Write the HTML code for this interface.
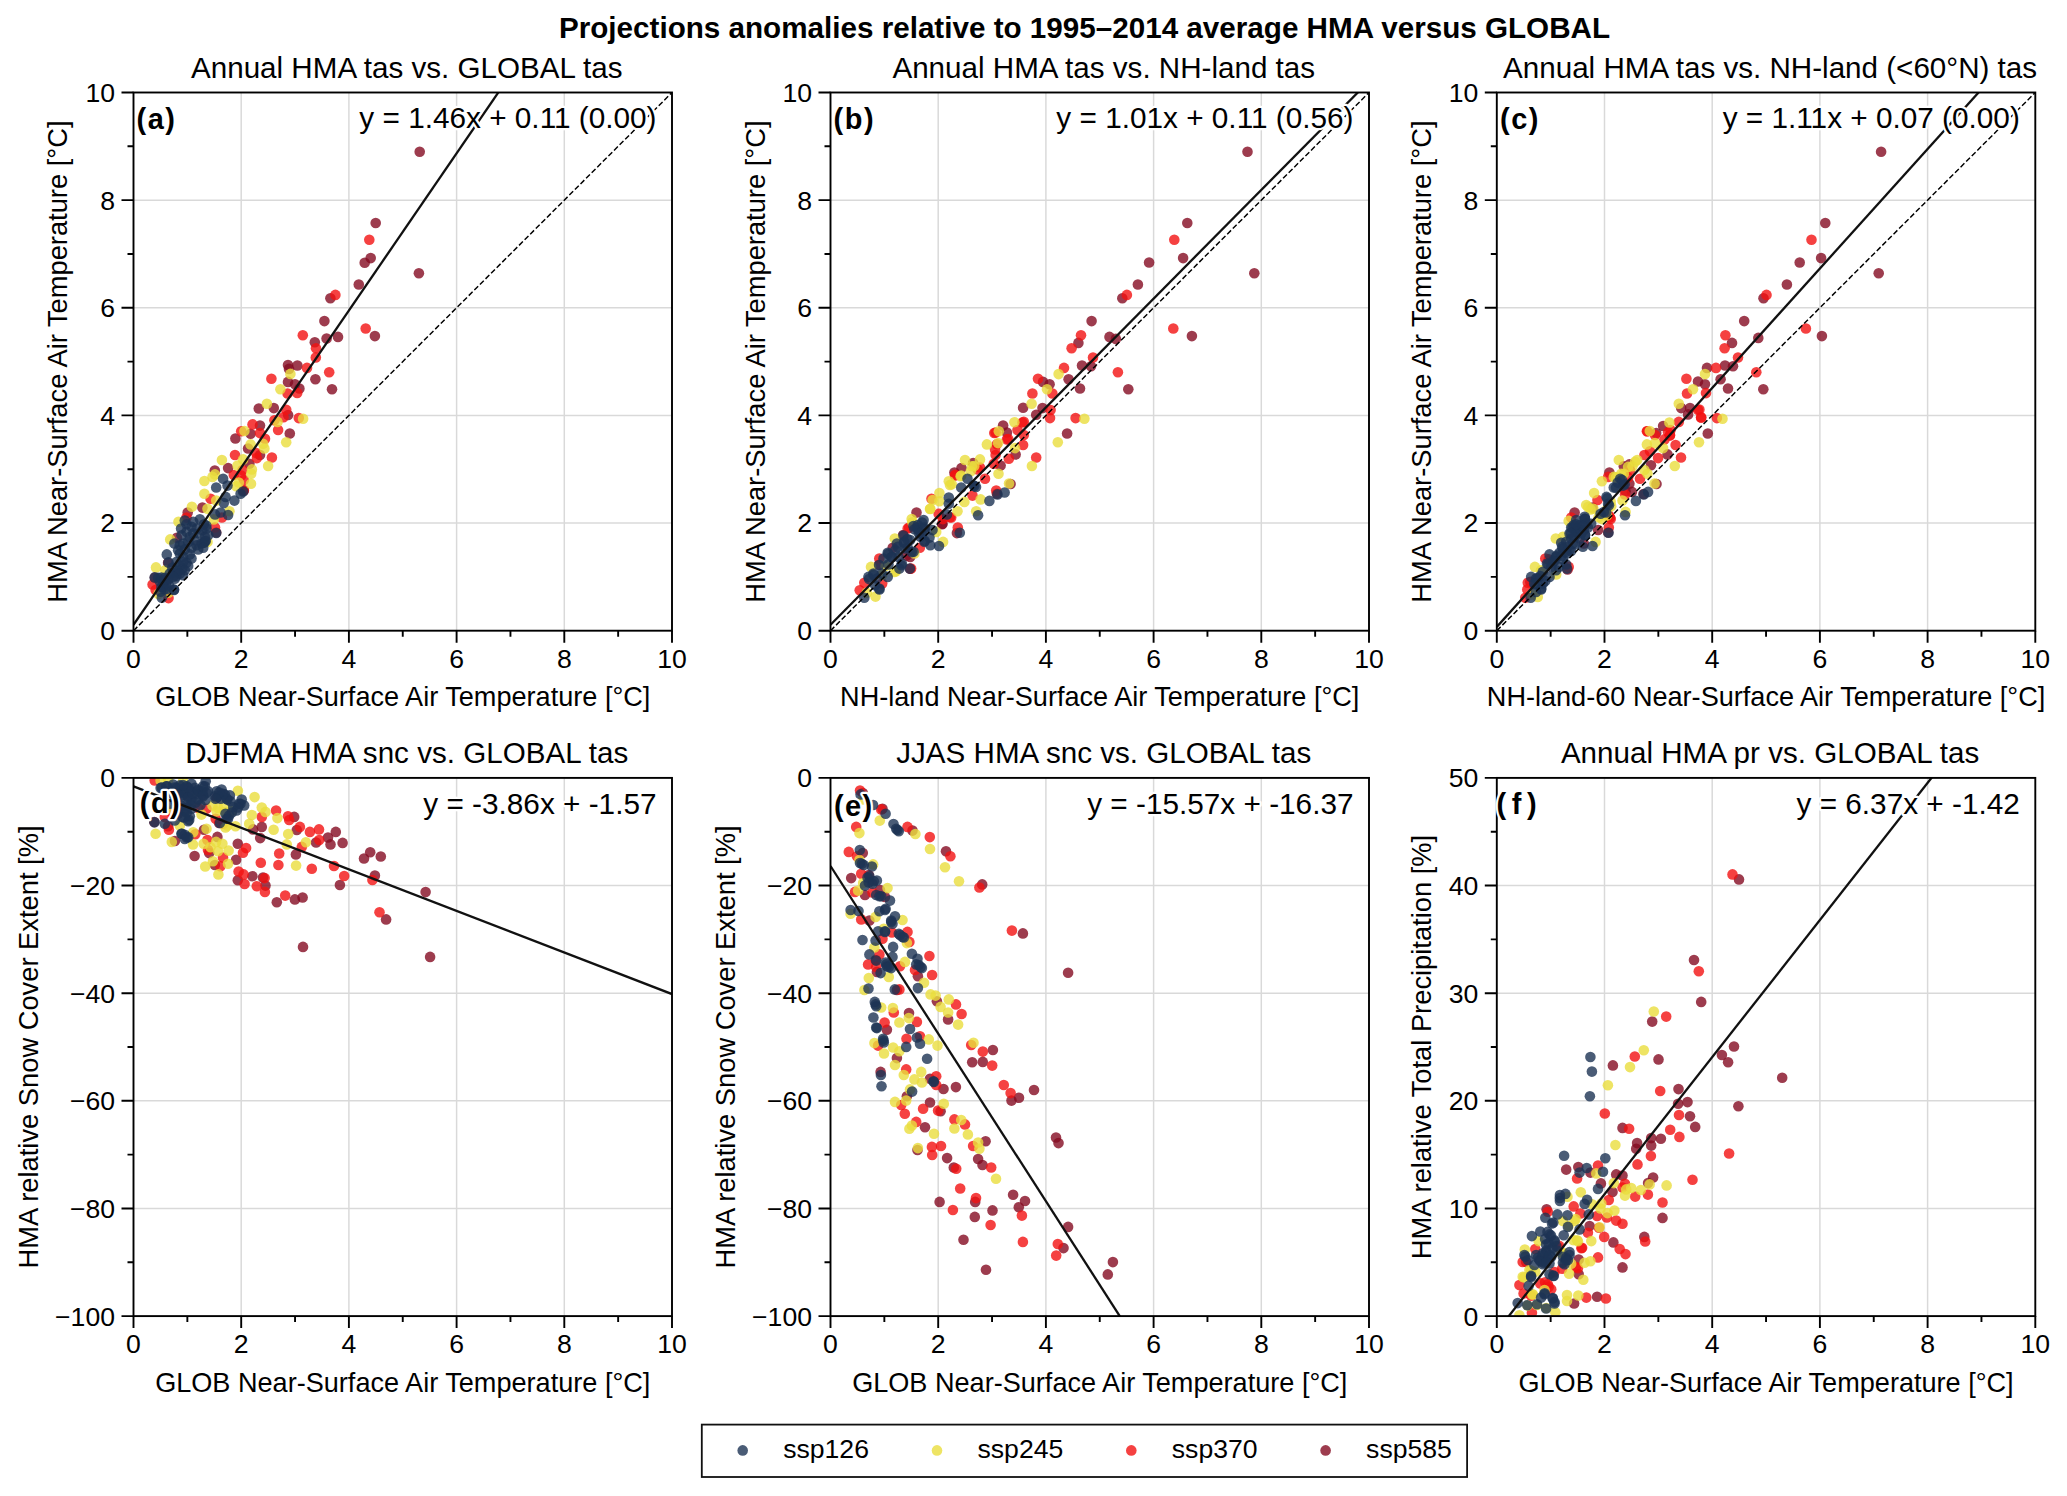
<!DOCTYPE html>
<html><head><meta charset="utf-8"><title>Projections anomalies</title>
<style>html,body{margin:0;padding:0;background:#fff}svg{display:block}</style></head>
<body>
<svg width="2067" height="1496" viewBox="0 0 2067 1496" font-family="'Liberation Sans', sans-serif" fill="#000">
<rect width="2067" height="1496" fill="#fff"/>
<text x="1084.5" y="37.5" font-size="29.63" font-weight="bold" text-anchor="middle">Projections anomalies relative to 1995–2014 average HMA versus GLOBAL</text>
<g id="pa">
<path d="M241.20 92.50V630.70M348.90 92.50V630.70M456.60 92.50V630.70M564.30 92.50V630.70M133.50 523.06H672.00M133.50 415.42H672.00M133.50 307.78H672.00M133.50 200.14H672.00" stroke="#000" stroke-opacity="0.15" stroke-width="1.5" fill="none"/>
<clipPath id="ca"><rect x="133.50" y="92.50" width="538.50" height="538.20"/></clipPath>
<g clip-path="url(#ca)">
<g fill-opacity="0.8"><circle cx="419.7" cy="151.8" r="5.3" fill="#840b22"/><circle cx="375.7" cy="223.0" r="5.3" fill="#840b22"/><circle cx="370.7" cy="258.1" r="5.3" fill="#840b22"/><circle cx="364.7" cy="262.7" r="5.3" fill="#840b22"/><circle cx="418.9" cy="273.3" r="5.3" fill="#840b22"/><circle cx="358.8" cy="284.5" r="5.3" fill="#840b22"/><circle cx="330.4" cy="298.3" r="5.3" fill="#840b22"/><circle cx="324.4" cy="321.1" r="5.3" fill="#840b22"/><circle cx="374.9" cy="336.1" r="5.3" fill="#840b22"/><circle cx="338.0" cy="336.9" r="5.3" fill="#840b22"/><circle cx="326.6" cy="338.5" r="5.3" fill="#840b22"/><circle cx="314.8" cy="342.3" r="5.3" fill="#840b22"/><circle cx="288.0" cy="365.1" r="5.3" fill="#840b22"/><circle cx="297.4" cy="365.5" r="5.3" fill="#840b22"/><circle cx="289.0" cy="368.9" r="5.3" fill="#840b22"/><circle cx="315.4" cy="379.3" r="5.3" fill="#840b22"/><circle cx="288.0" cy="381.9" r="5.3" fill="#840b22"/><circle cx="295.0" cy="384.3" r="5.3" fill="#840b22"/><circle cx="299.4" cy="388.5" r="5.3" fill="#840b22"/><circle cx="332.0" cy="389.3" r="5.3" fill="#840b22"/><circle cx="258.8" cy="408.5" r="5.3" fill="#840b22"/><circle cx="273.8" cy="408.1" r="5.3" fill="#840b22"/><circle cx="288.1" cy="415.0" r="5.3" fill="#840b22"/><circle cx="260.0" cy="425.6" r="5.3" fill="#840b22"/><circle cx="289.8" cy="433.5" r="5.3" fill="#840b22"/><circle cx="250.6" cy="433.8" r="5.3" fill="#840b22"/><circle cx="235.4" cy="438.5" r="5.3" fill="#840b22"/><circle cx="248.1" cy="448.5" r="5.3" fill="#840b22"/><circle cx="260.0" cy="455.0" r="5.3" fill="#840b22"/><circle cx="228.1" cy="468.1" r="5.3" fill="#840b22"/><circle cx="249.4" cy="463.8" r="5.3" fill="#840b22"/><circle cx="214.8" cy="470.6" r="5.3" fill="#840b22"/><circle cx="243.8" cy="490.6" r="5.3" fill="#840b22"/><circle cx="216.2" cy="532.5" r="5.3" fill="#840b22"/><circle cx="187.7" cy="512.6" r="5.3" fill="#840b22"/><circle cx="202.4" cy="507.6" r="5.3" fill="#840b22"/><circle cx="176.9" cy="537.7" r="5.3" fill="#840b22"/><circle cx="168.1" cy="562.8" r="5.3" fill="#840b22"/><circle cx="154.9" cy="577.6" r="5.3" fill="#840b22"/><circle cx="369.3" cy="239.7" r="5.3" fill="#f21111"/><circle cx="335.4" cy="294.9" r="5.3" fill="#f21111"/><circle cx="365.7" cy="328.5" r="5.3" fill="#f21111"/><circle cx="302.8" cy="335.3" r="5.3" fill="#f21111"/><circle cx="316.0" cy="348.3" r="5.3" fill="#f21111"/><circle cx="315.8" cy="357.5" r="5.3" fill="#f21111"/><circle cx="307.0" cy="367.9" r="5.3" fill="#f21111"/><circle cx="329.2" cy="372.3" r="5.3" fill="#f21111"/><circle cx="271.4" cy="378.7" r="5.3" fill="#f21111"/><circle cx="287.6" cy="393.5" r="5.3" fill="#f21111"/><circle cx="297.2" cy="392.9" r="5.3" fill="#f21111"/><circle cx="286.2" cy="409.8" r="5.3" fill="#f21111"/><circle cx="283.5" cy="417.2" r="5.3" fill="#f21111"/><circle cx="298.8" cy="418.1" r="5.3" fill="#f21111"/><circle cx="274.4" cy="420.2" r="5.3" fill="#f21111"/><circle cx="252.5" cy="424.4" r="5.3" fill="#f21111"/><circle cx="278.1" cy="430.0" r="5.3" fill="#f21111"/><circle cx="241.2" cy="431.2" r="5.3" fill="#f21111"/><circle cx="260.0" cy="433.1" r="5.3" fill="#f21111"/><circle cx="265.0" cy="438.8" r="5.3" fill="#f21111"/><circle cx="256.2" cy="453.1" r="5.3" fill="#f21111"/><circle cx="235.0" cy="455.0" r="5.3" fill="#f21111"/><circle cx="256.9" cy="458.1" r="5.3" fill="#f21111"/><circle cx="271.9" cy="457.5" r="5.3" fill="#f21111"/><circle cx="242.5" cy="470.0" r="5.3" fill="#f21111"/><circle cx="241.2" cy="475.6" r="5.3" fill="#f21111"/><circle cx="233.8" cy="475.0" r="5.3" fill="#f21111"/><circle cx="243.8" cy="480.0" r="5.3" fill="#f21111"/><circle cx="243.8" cy="490.0" r="5.3" fill="#f21111"/><circle cx="210.6" cy="498.8" r="5.3" fill="#f21111"/><circle cx="221.9" cy="517.5" r="5.3" fill="#f21111"/><circle cx="215.0" cy="527.5" r="5.3" fill="#f21111"/><circle cx="186.5" cy="517.6" r="5.3" fill="#f21111"/><circle cx="152.6" cy="584.5" r="5.3" fill="#f21111"/><circle cx="155.6" cy="590.1" r="5.3" fill="#f21111"/><circle cx="168.5" cy="598.1" r="5.3" fill="#f21111"/><circle cx="290.4" cy="373.9" r="5.3" fill="#eadd3d"/><circle cx="280.4" cy="389.3" r="5.3" fill="#eadd3d"/><circle cx="266.9" cy="403.8" r="5.3" fill="#eadd3d"/><circle cx="303.1" cy="418.8" r="5.3" fill="#eadd3d"/><circle cx="277.5" cy="421.9" r="5.3" fill="#eadd3d"/><circle cx="244.4" cy="431.0" r="5.3" fill="#eadd3d"/><circle cx="286.2" cy="442.2" r="5.3" fill="#eadd3d"/><circle cx="250.6" cy="444.4" r="5.3" fill="#eadd3d"/><circle cx="263.1" cy="443.8" r="5.3" fill="#eadd3d"/><circle cx="264.4" cy="448.5" r="5.3" fill="#eadd3d"/><circle cx="221.9" cy="460.0" r="5.3" fill="#eadd3d"/><circle cx="243.1" cy="459.4" r="5.3" fill="#eadd3d"/><circle cx="237.5" cy="465.6" r="5.3" fill="#eadd3d"/><circle cx="268.1" cy="466.0" r="5.3" fill="#eadd3d"/><circle cx="251.9" cy="469.4" r="5.3" fill="#eadd3d"/><circle cx="251.2" cy="473.8" r="5.3" fill="#eadd3d"/><circle cx="215.0" cy="474.4" r="5.3" fill="#eadd3d"/><circle cx="212.5" cy="476.9" r="5.3" fill="#eadd3d"/><circle cx="204.4" cy="481.0" r="5.3" fill="#eadd3d"/><circle cx="238.8" cy="482.5" r="5.3" fill="#eadd3d"/><circle cx="251.0" cy="483.8" r="5.3" fill="#eadd3d"/><circle cx="236.2" cy="486.2" r="5.3" fill="#eadd3d"/><circle cx="204.4" cy="493.8" r="5.3" fill="#eadd3d"/><circle cx="216.2" cy="500.6" r="5.3" fill="#eadd3d"/><circle cx="207.5" cy="508.8" r="5.3" fill="#eadd3d"/><circle cx="229.4" cy="511.2" r="5.3" fill="#eadd3d"/><circle cx="213.8" cy="519.4" r="5.3" fill="#eadd3d"/><circle cx="207.5" cy="541.9" r="5.3" fill="#eadd3d"/><circle cx="191.9" cy="506.8" r="5.3" fill="#eadd3d"/><circle cx="178.5" cy="521.8" r="5.3" fill="#eadd3d"/><circle cx="170.2" cy="539.4" r="5.3" fill="#eadd3d"/><circle cx="156.0" cy="567.4" r="5.3" fill="#eadd3d"/><circle cx="165.2" cy="570.3" r="5.3" fill="#eadd3d"/><circle cx="158.5" cy="593.9" r="5.3" fill="#eadd3d"/><circle cx="168.5" cy="592.7" r="5.3" fill="#eadd3d"/><circle cx="223.1" cy="478.8" r="5.3" fill="#1d3354"/><circle cx="227.5" cy="485.6" r="5.3" fill="#1d3354"/><circle cx="216.2" cy="487.5" r="5.3" fill="#1d3354"/><circle cx="243.1" cy="491.5" r="5.3" fill="#1d3354"/><circle cx="240.6" cy="493.8" r="5.3" fill="#1d3354"/><circle cx="225.6" cy="496.9" r="5.3" fill="#1d3354"/><circle cx="234.4" cy="500.6" r="5.3" fill="#1d3354"/><circle cx="223.8" cy="503.1" r="5.3" fill="#1d3354"/><circle cx="215.0" cy="514.4" r="5.3" fill="#1d3354"/><circle cx="220.6" cy="512.5" r="5.3" fill="#1d3354"/><circle cx="228.1" cy="515.0" r="5.3" fill="#1d3354"/><circle cx="206.2" cy="525.6" r="5.3" fill="#1d3354"/><circle cx="216.2" cy="533.0" r="5.3" fill="#1d3354"/><circle cx="205.0" cy="541.2" r="5.3" fill="#1d3354"/><circle cx="184.8" cy="520.6" r="5.3" fill="#1d3354"/><circle cx="181.1" cy="528.5" r="5.3" fill="#1d3354"/><circle cx="191.5" cy="526.8" r="5.3" fill="#1d3354"/><circle cx="199.9" cy="519.3" r="5.3" fill="#1d3354"/><circle cx="204.0" cy="524.3" r="5.3" fill="#1d3354"/><circle cx="199.0" cy="533.5" r="5.3" fill="#1d3354"/><circle cx="189.8" cy="536.9" r="5.3" fill="#1d3354"/><circle cx="204.0" cy="542.7" r="5.3" fill="#1d3354"/><circle cx="196.5" cy="545.2" r="5.3" fill="#1d3354"/><circle cx="183.1" cy="543.5" r="5.3" fill="#1d3354"/><circle cx="174.4" cy="543.5" r="5.3" fill="#1d3354"/><circle cx="166.8" cy="554.4" r="5.3" fill="#1d3354"/><circle cx="179.8" cy="553.6" r="5.3" fill="#1d3354"/><circle cx="189.8" cy="554.4" r="5.3" fill="#1d3354"/><circle cx="186.5" cy="562.8" r="5.3" fill="#1d3354"/><circle cx="176.5" cy="561.9" r="5.3" fill="#1d3354"/><circle cx="168.5" cy="562.4" r="5.3" fill="#1d3354"/><circle cx="182.3" cy="568.6" r="5.3" fill="#1d3354"/><circle cx="173.1" cy="572.8" r="5.3" fill="#1d3354"/><circle cx="154.7" cy="577.4" r="5.3" fill="#1d3354"/><circle cx="164.8" cy="577.8" r="5.3" fill="#1d3354"/><circle cx="174.8" cy="578.7" r="5.3" fill="#1d3354"/><circle cx="183.1" cy="575.3" r="5.3" fill="#1d3354"/><circle cx="161.4" cy="587.0" r="5.3" fill="#1d3354"/><circle cx="174.0" cy="589.5" r="5.3" fill="#1d3354"/><circle cx="174.0" cy="589.9" r="5.3" fill="#1d3354"/><circle cx="164.3" cy="589.3" r="5.3" fill="#1d3354"/><circle cx="161.8" cy="597.7" r="5.3" fill="#1d3354"/><circle cx="166.0" cy="583.5" r="5.3" fill="#1d3354"/><circle cx="186.5" cy="524.3" r="5.3" fill="#1d3354"/><circle cx="193.2" cy="521.8" r="5.3" fill="#1d3354"/><circle cx="196.5" cy="528.5" r="5.3" fill="#1d3354"/><circle cx="202.4" cy="530.2" r="5.3" fill="#1d3354"/><circle cx="204.9" cy="536.9" r="5.3" fill="#1d3354"/><circle cx="193.2" cy="533.5" r="5.3" fill="#1d3354"/><circle cx="186.5" cy="531.8" r="5.3" fill="#1d3354"/><circle cx="181.5" cy="535.2" r="5.3" fill="#1d3354"/><circle cx="188.2" cy="541.9" r="5.3" fill="#1d3354"/><circle cx="194.8" cy="540.2" r="5.3" fill="#1d3354"/><circle cx="201.5" cy="543.5" r="5.3" fill="#1d3354"/><circle cx="191.5" cy="547.7" r="5.3" fill="#1d3354"/><circle cx="184.8" cy="549.4" r="5.3" fill="#1d3354"/><circle cx="198.2" cy="549.4" r="5.3" fill="#1d3354"/><circle cx="179.8" cy="545.2" r="5.3" fill="#1d3354"/><circle cx="178.1" cy="550.2" r="5.3" fill="#1d3354"/><circle cx="183.1" cy="556.9" r="5.3" fill="#1d3354"/><circle cx="191.5" cy="558.6" r="5.3" fill="#1d3354"/><circle cx="188.2" cy="566.1" r="5.3" fill="#1d3354"/><circle cx="179.8" cy="566.1" r="5.3" fill="#1d3354"/><circle cx="183.1" cy="561.9" r="5.3" fill="#1d3354"/><circle cx="178.1" cy="571.1" r="5.3" fill="#1d3354"/><circle cx="184.8" cy="570.3" r="5.3" fill="#1d3354"/><circle cx="172.3" cy="567.8" r="5.3" fill="#1d3354"/><circle cx="169.8" cy="573.6" r="5.3" fill="#1d3354"/><circle cx="176.5" cy="576.1" r="5.3" fill="#1d3354"/><circle cx="168.1" cy="579.5" r="5.3" fill="#1d3354"/><circle cx="159.7" cy="581.2" r="5.3" fill="#1d3354"/><circle cx="158.1" cy="577.8" r="5.3" fill="#1d3354"/><circle cx="163.1" cy="583.7" r="5.3" fill="#1d3354"/><circle cx="168.9" cy="585.3" r="5.3" fill="#1d3354"/><circle cx="179.8" cy="573.6" r="5.3" fill="#1d3354"/><circle cx="206.5" cy="528.5" r="5.3" fill="#1d3354"/><circle cx="208.2" cy="535.2" r="5.3" fill="#1d3354"/><circle cx="205.7" cy="541.0" r="5.3" fill="#1d3354"/><circle cx="203.2" cy="547.7" r="5.3" fill="#1d3354"/><circle cx="161.4" cy="577.6" r="5.3" fill="#1d3354"/><circle cx="164.8" cy="580.1" r="5.3" fill="#1d3354"/><circle cx="163.1" cy="586.8" r="5.3" fill="#1d3354"/><circle cx="166.4" cy="589.3" r="5.3" fill="#1d3354"/><circle cx="160.6" cy="591.8" r="5.3" fill="#1d3354"/><circle cx="173.1" cy="576.7" r="5.3" fill="#1d3354"/></g>
<path d="M133.50 630.70L672.00 92.50" stroke="#000" stroke-width="1.45" stroke-dasharray="5.4 2.5" fill="none"/>
<path d="M133.50 624.78L672.00 -160.99" stroke="#111" stroke-width="2.3" fill="none"/>
</g>
<rect x="133.50" y="92.50" width="538.50" height="538.20" fill="none" stroke="#000" stroke-width="1.90"/>
<path d="M133.50 630.70v12M187.35 630.70v6M241.20 630.70v12M295.05 630.70v6M348.90 630.70v12M402.75 630.70v6M456.60 630.70v12M510.45 630.70v6M564.30 630.70v12M618.15 630.70v6M672.00 630.70v12M133.50 630.70h-12M133.50 576.88h-6M133.50 523.06h-12M133.50 469.24h-6M133.50 415.42h-12M133.50 361.60h-6M133.50 307.78h-12M133.50 253.96h-6M133.50 200.14h-12M133.50 146.32h-6M133.50 92.50h-12" stroke="#000" stroke-width="1.90" fill="none"/>
<g font-size="26.60"><text x="133.50" y="668.00" text-anchor="middle">0</text><text x="241.20" y="668.00" text-anchor="middle">2</text><text x="348.90" y="668.00" text-anchor="middle">4</text><text x="456.60" y="668.00" text-anchor="middle">6</text><text x="564.30" y="668.00" text-anchor="middle">8</text><text x="672.00" y="668.00" text-anchor="middle">10</text><text x="115.00" y="640.10" text-anchor="end">0</text><text x="115.00" y="532.46" text-anchor="end">2</text><text x="115.00" y="424.82" text-anchor="end">4</text><text x="115.00" y="317.18" text-anchor="end">6</text><text x="115.00" y="209.54" text-anchor="end">8</text><text x="115.00" y="101.90" text-anchor="end">10</text></g>
<text x="402.75" y="706.20" font-size="27.1" text-anchor="middle">GLOB Near-Surface Air Temperature [°C]</text>
<text transform="translate(67.00 361.60) rotate(-90)" font-size="27.3" text-anchor="middle">HMA Near-Surface Air Temperature [°C]</text>
<text x="406.75" y="77.90" font-size="29.60" text-anchor="middle">Annual HMA tas vs. GLOBAL tas</text>
<text x="136.50" y="128.80" font-size="28.95" font-weight="bold" letter-spacing="1.50" stroke="#fff" stroke-width="4.5" stroke-linejoin="round" paint-order="stroke">(a)</text>
<text x="656.50" y="128.40" font-size="29.75" text-anchor="end" stroke="#fff" stroke-width="4.5" stroke-linejoin="round" paint-order="stroke">y = 1.46x + 0.11 (0.00)</text>
</g>
<g id="pb">
<path d="M938.20 92.50V630.70M1045.90 92.50V630.70M1153.60 92.50V630.70M1261.30 92.50V630.70M830.50 523.06H1369.00M830.50 415.42H1369.00M830.50 307.78H1369.00M830.50 200.14H1369.00" stroke="#000" stroke-opacity="0.15" stroke-width="1.5" fill="none"/>
<clipPath id="cb"><rect x="830.50" y="92.50" width="538.50" height="538.20"/></clipPath>
<g clip-path="url(#cb)">
<g fill-opacity="0.8"><circle cx="1247.5" cy="151.8" r="5.3" fill="#840b22"/><circle cx="1187.3" cy="223.0" r="5.3" fill="#840b22"/><circle cx="1183.1" cy="258.1" r="5.3" fill="#840b22"/><circle cx="1149.1" cy="262.5" r="5.3" fill="#840b22"/><circle cx="1254.3" cy="273.3" r="5.3" fill="#840b22"/><circle cx="1137.9" cy="284.5" r="5.3" fill="#840b22"/><circle cx="1122.3" cy="298.3" r="5.3" fill="#840b22"/><circle cx="1091.6" cy="321.1" r="5.3" fill="#840b22"/><circle cx="1191.9" cy="336.1" r="5.3" fill="#840b22"/><circle cx="1109.5" cy="336.9" r="5.3" fill="#840b22"/><circle cx="1115.9" cy="338.9" r="5.3" fill="#840b22"/><circle cx="1078.4" cy="342.9" r="5.3" fill="#840b22"/><circle cx="1082.0" cy="365.5" r="5.3" fill="#840b22"/><circle cx="1091.0" cy="366.3" r="5.3" fill="#840b22"/><circle cx="1068.6" cy="379.3" r="5.3" fill="#840b22"/><circle cx="1043.0" cy="381.9" r="5.3" fill="#840b22"/><circle cx="1049.6" cy="384.3" r="5.3" fill="#840b22"/><circle cx="1080.0" cy="388.5" r="5.3" fill="#840b22"/><circle cx="1128.3" cy="389.3" r="5.3" fill="#840b22"/><circle cx="1023.1" cy="407.8" r="5.3" fill="#840b22"/><circle cx="1042.5" cy="408.1" r="5.3" fill="#840b22"/><circle cx="1036.2" cy="414.8" r="5.3" fill="#840b22"/><circle cx="1003.1" cy="425.6" r="5.3" fill="#840b22"/><circle cx="1006.9" cy="432.5" r="5.3" fill="#840b22"/><circle cx="1067.1" cy="433.5" r="5.3" fill="#840b22"/><circle cx="1015.6" cy="454.4" r="5.3" fill="#840b22"/><circle cx="973.1" cy="463.1" r="5.3" fill="#840b22"/><circle cx="1000.6" cy="465.6" r="5.3" fill="#840b22"/><circle cx="961.5" cy="468.1" r="5.3" fill="#840b22"/><circle cx="954.4" cy="472.5" r="5.3" fill="#840b22"/><circle cx="1010.6" cy="484.0" r="5.3" fill="#840b22"/><circle cx="996.9" cy="493.8" r="5.3" fill="#840b22"/><circle cx="942.5" cy="523.8" r="5.3" fill="#840b22"/><circle cx="956.9" cy="533.1" r="5.3" fill="#840b22"/><circle cx="916.5" cy="512.6" r="5.3" fill="#840b22"/><circle cx="903.1" cy="535.1" r="5.3" fill="#840b22"/><circle cx="892.7" cy="547.7" r="5.3" fill="#840b22"/><circle cx="910.2" cy="556.9" r="5.3" fill="#840b22"/><circle cx="878.9" cy="564.8" r="5.3" fill="#840b22"/><circle cx="910.1" cy="568.7" r="5.3" fill="#840b22"/><circle cx="942.1" cy="524.3" r="5.3" fill="#840b22"/><circle cx="906.5" cy="555.6" r="5.3" fill="#840b22"/><circle cx="1174.3" cy="239.7" r="5.3" fill="#f21111"/><circle cx="1126.9" cy="294.9" r="5.3" fill="#f21111"/><circle cx="1173.3" cy="328.5" r="5.3" fill="#f21111"/><circle cx="1081.0" cy="335.3" r="5.3" fill="#f21111"/><circle cx="1071.6" cy="348.3" r="5.3" fill="#f21111"/><circle cx="1093.0" cy="357.5" r="5.3" fill="#f21111"/><circle cx="1064.0" cy="367.9" r="5.3" fill="#f21111"/><circle cx="1117.9" cy="372.3" r="5.3" fill="#f21111"/><circle cx="1038.0" cy="378.7" r="5.3" fill="#f21111"/><circle cx="1052.4" cy="393.5" r="5.3" fill="#f21111"/><circle cx="1032.4" cy="393.5" r="5.3" fill="#f21111"/><circle cx="1050.6" cy="410.0" r="5.3" fill="#f21111"/><circle cx="1050.0" cy="418.1" r="5.3" fill="#f21111"/><circle cx="1075.6" cy="418.1" r="5.3" fill="#f21111"/><circle cx="1022.5" cy="422.5" r="5.3" fill="#f21111"/><circle cx="1017.5" cy="430.0" r="5.3" fill="#f21111"/><circle cx="995.6" cy="432.5" r="5.3" fill="#f21111"/><circle cx="1023.8" cy="435.0" r="5.3" fill="#f21111"/><circle cx="1006.9" cy="439.4" r="5.3" fill="#f21111"/><circle cx="1023.1" cy="445.0" r="5.3" fill="#f21111"/><circle cx="995.0" cy="449.4" r="5.3" fill="#f21111"/><circle cx="995.6" cy="455.0" r="5.3" fill="#f21111"/><circle cx="1036.2" cy="457.5" r="5.3" fill="#f21111"/><circle cx="1008.8" cy="458.8" r="5.3" fill="#f21111"/><circle cx="993.8" cy="463.8" r="5.3" fill="#f21111"/><circle cx="980.0" cy="467.5" r="5.3" fill="#f21111"/><circle cx="955.0" cy="475.6" r="5.3" fill="#f21111"/><circle cx="985.0" cy="478.8" r="5.3" fill="#f21111"/><circle cx="996.2" cy="490.6" r="5.3" fill="#f21111"/><circle cx="972.5" cy="495.6" r="5.3" fill="#f21111"/><circle cx="951.2" cy="517.5" r="5.3" fill="#f21111"/><circle cx="957.8" cy="527.5" r="5.3" fill="#f21111"/><circle cx="931.5" cy="498.8" r="5.3" fill="#f21111"/><circle cx="907.7" cy="528.4" r="5.3" fill="#f21111"/><circle cx="919.8" cy="547.7" r="5.3" fill="#f21111"/><circle cx="879.3" cy="558.5" r="5.3" fill="#f21111"/><circle cx="911.1" cy="568.6" r="5.3" fill="#f21111"/><circle cx="864.3" cy="582.8" r="5.3" fill="#f21111"/><circle cx="859.7" cy="590.3" r="5.3" fill="#f21111"/><circle cx="977.8" cy="469.5" r="5.3" fill="#f21111"/><circle cx="955.2" cy="474.7" r="5.3" fill="#f21111"/><circle cx="943.0" cy="519.1" r="5.3" fill="#f21111"/><circle cx="950.0" cy="517.3" r="5.3" fill="#f21111"/><circle cx="938.7" cy="513.9" r="5.3" fill="#f21111"/><circle cx="1023.8" cy="421.7" r="5.3" fill="#f21111"/><circle cx="994.3" cy="433.0" r="5.3" fill="#f21111"/><circle cx="996.9" cy="444.3" r="5.3" fill="#f21111"/><circle cx="1008.2" cy="439.1" r="5.3" fill="#f21111"/><circle cx="909.1" cy="527.8" r="5.3" fill="#f21111"/><circle cx="882.2" cy="583.4" r="5.3" fill="#f21111"/><circle cx="1058.6" cy="374.1" r="5.3" fill="#eadd3d"/><circle cx="1047.0" cy="389.3" r="5.3" fill="#eadd3d"/><circle cx="1031.6" cy="403.8" r="5.3" fill="#eadd3d"/><circle cx="1084.4" cy="418.8" r="5.3" fill="#eadd3d"/><circle cx="1014.4" cy="422.2" r="5.3" fill="#eadd3d"/><circle cx="998.8" cy="431.2" r="5.3" fill="#eadd3d"/><circle cx="1057.8" cy="442.2" r="5.3" fill="#eadd3d"/><circle cx="986.9" cy="444.4" r="5.3" fill="#eadd3d"/><circle cx="998.1" cy="443.1" r="5.3" fill="#eadd3d"/><circle cx="1015.0" cy="448.1" r="5.3" fill="#eadd3d"/><circle cx="965.0" cy="460.0" r="5.3" fill="#eadd3d"/><circle cx="980.0" cy="459.4" r="5.3" fill="#eadd3d"/><circle cx="1031.9" cy="466.0" r="5.3" fill="#eadd3d"/><circle cx="971.9" cy="466.2" r="5.3" fill="#eadd3d"/><circle cx="998.5" cy="473.8" r="5.3" fill="#eadd3d"/><circle cx="960.6" cy="476.2" r="5.3" fill="#eadd3d"/><circle cx="948.8" cy="481.2" r="5.3" fill="#eadd3d"/><circle cx="1009.0" cy="483.5" r="5.3" fill="#eadd3d"/><circle cx="950.0" cy="485.0" r="5.3" fill="#eadd3d"/><circle cx="939.4" cy="493.1" r="5.3" fill="#eadd3d"/><circle cx="980.6" cy="499.4" r="5.3" fill="#eadd3d"/><circle cx="964.4" cy="501.9" r="5.3" fill="#eadd3d"/><circle cx="939.4" cy="501.2" r="5.3" fill="#eadd3d"/><circle cx="957.5" cy="511.2" r="5.3" fill="#eadd3d"/><circle cx="976.2" cy="511.2" r="5.3" fill="#eadd3d"/><circle cx="936.2" cy="531.9" r="5.3" fill="#eadd3d"/><circle cx="943.1" cy="541.9" r="5.3" fill="#eadd3d"/><circle cx="930.3" cy="508.8" r="5.3" fill="#eadd3d"/><circle cx="912.3" cy="522.2" r="5.3" fill="#eadd3d"/><circle cx="894.8" cy="538.5" r="5.3" fill="#eadd3d"/><circle cx="914.4" cy="553.5" r="5.3" fill="#eadd3d"/><circle cx="871.0" cy="566.9" r="5.3" fill="#eadd3d"/><circle cx="894.4" cy="571.9" r="5.3" fill="#eadd3d"/><circle cx="866.8" cy="592.8" r="5.3" fill="#eadd3d"/><circle cx="875.5" cy="596.6" r="5.3" fill="#eadd3d"/><circle cx="930.0" cy="509.0" r="5.3" fill="#eadd3d"/><circle cx="951.7" cy="484.3" r="5.3" fill="#eadd3d"/><circle cx="961.3" cy="475.6" r="5.3" fill="#eadd3d"/><circle cx="970.8" cy="471.3" r="5.3" fill="#eadd3d"/><circle cx="974.3" cy="466.1" r="5.3" fill="#eadd3d"/><circle cx="885.6" cy="566.0" r="5.3" fill="#eadd3d"/><circle cx="896.1" cy="571.2" r="5.3" fill="#eadd3d"/><circle cx="932.6" cy="500.0" r="5.3" fill="#eadd3d"/><circle cx="911.7" cy="519.1" r="5.3" fill="#eadd3d"/><circle cx="882.2" cy="574.7" r="5.3" fill="#eadd3d"/><circle cx="967.5" cy="478.8" r="5.3" fill="#1d3354"/><circle cx="961.2" cy="487.5" r="5.3" fill="#1d3354"/><circle cx="974.4" cy="486.0" r="5.3" fill="#1d3354"/><circle cx="1004.6" cy="492.5" r="5.3" fill="#1d3354"/><circle cx="997.5" cy="494.4" r="5.3" fill="#1d3354"/><circle cx="948.8" cy="497.5" r="5.3" fill="#1d3354"/><circle cx="989.4" cy="500.9" r="5.3" fill="#1d3354"/><circle cx="948.8" cy="503.8" r="5.3" fill="#1d3354"/><circle cx="978.1" cy="515.2" r="5.3" fill="#1d3354"/><circle cx="946.9" cy="514.4" r="5.3" fill="#1d3354"/><circle cx="959.8" cy="532.8" r="5.3" fill="#1d3354"/><circle cx="939.0" cy="546.0" r="5.3" fill="#1d3354"/><circle cx="923.6" cy="520.1" r="5.3" fill="#1d3354"/><circle cx="917.8" cy="525.1" r="5.3" fill="#1d3354"/><circle cx="924.4" cy="527.6" r="5.3" fill="#1d3354"/><circle cx="914.4" cy="529.3" r="5.3" fill="#1d3354"/><circle cx="921.9" cy="534.3" r="5.3" fill="#1d3354"/><circle cx="929.5" cy="537.6" r="5.3" fill="#1d3354"/><circle cx="932.5" cy="530.0" r="5.3" fill="#1d3354"/><circle cx="903.5" cy="535.5" r="5.3" fill="#1d3354"/><circle cx="896.9" cy="543.5" r="5.3" fill="#1d3354"/><circle cx="904.4" cy="541.8" r="5.3" fill="#1d3354"/><circle cx="924.4" cy="541.8" r="5.3" fill="#1d3354"/><circle cx="930.3" cy="545.2" r="5.3" fill="#1d3354"/><circle cx="907.7" cy="547.7" r="5.3" fill="#1d3354"/><circle cx="913.6" cy="551.8" r="5.3" fill="#1d3354"/><circle cx="887.7" cy="552.7" r="5.3" fill="#1d3354"/><circle cx="891.8" cy="556.9" r="5.3" fill="#1d3354"/><circle cx="879.1" cy="565.0" r="5.3" fill="#1d3354"/><circle cx="888.5" cy="564.4" r="5.3" fill="#1d3354"/><circle cx="901.9" cy="563.5" r="5.3" fill="#1d3354"/><circle cx="909.8" cy="568.6" r="5.3" fill="#1d3354"/><circle cx="899.4" cy="568.6" r="5.3" fill="#1d3354"/><circle cx="868.4" cy="576.9" r="5.3" fill="#1d3354"/><circle cx="887.7" cy="576.9" r="5.3" fill="#1d3354"/><circle cx="876.8" cy="578.6" r="5.3" fill="#1d3354"/><circle cx="879.3" cy="588.6" r="5.3" fill="#1d3354"/><circle cx="864.3" cy="597.8" r="5.3" fill="#1d3354"/><circle cx="918.6" cy="530.1" r="5.3" fill="#1d3354"/><circle cx="920.3" cy="536.8" r="5.3" fill="#1d3354"/><circle cx="910.2" cy="540.1" r="5.3" fill="#1d3354"/><circle cx="905.2" cy="548.5" r="5.3" fill="#1d3354"/><circle cx="895.2" cy="550.2" r="5.3" fill="#1d3354"/><circle cx="898.5" cy="556.9" r="5.3" fill="#1d3354"/><circle cx="883.5" cy="558.5" r="5.3" fill="#1d3354"/><circle cx="873.5" cy="573.6" r="5.3" fill="#1d3354"/><circle cx="881.8" cy="573.6" r="5.3" fill="#1d3354"/><circle cx="875.1" cy="585.3" r="5.3" fill="#1d3354"/><circle cx="916.9" cy="527.8" r="5.3" fill="#1d3354"/><circle cx="922.1" cy="522.6" r="5.3" fill="#1d3354"/><circle cx="924.7" cy="529.5" r="5.3" fill="#1d3354"/><circle cx="918.7" cy="533.0" r="5.3" fill="#1d3354"/><circle cx="913.4" cy="526.0" r="5.3" fill="#1d3354"/><circle cx="903.9" cy="542.6" r="5.3" fill="#1d3354"/><circle cx="907.4" cy="539.1" r="5.3" fill="#1d3354"/><circle cx="888.2" cy="553.9" r="5.3" fill="#1d3354"/><circle cx="891.7" cy="557.3" r="5.3" fill="#1d3354"/><circle cx="901.3" cy="565.2" r="5.3" fill="#1d3354"/><circle cx="911.7" cy="552.1" r="5.3" fill="#1d3354"/><circle cx="924.7" cy="540.8" r="5.3" fill="#1d3354"/><circle cx="879.5" cy="589.5" r="5.3" fill="#1d3354"/><circle cx="869.1" cy="579.1" r="5.3" fill="#1d3354"/><circle cx="973.4" cy="485.2" r="5.3" fill="#1d3354"/><circle cx="976.0" cy="486.9" r="5.3" fill="#1d3354"/><circle cx="897.8" cy="546.9" r="5.3" fill="#1d3354"/><circle cx="873.5" cy="574.7" r="5.3" fill="#1d3354"/></g>
<path d="M830.50 630.70L1369.00 92.50" stroke="#000" stroke-width="1.45" stroke-dasharray="5.4 2.5" fill="none"/>
<path d="M830.50 624.78L1369.00 81.20" stroke="#111" stroke-width="2.3" fill="none"/>
</g>
<rect x="830.50" y="92.50" width="538.50" height="538.20" fill="none" stroke="#000" stroke-width="1.90"/>
<path d="M830.50 630.70v12M884.35 630.70v6M938.20 630.70v12M992.05 630.70v6M1045.90 630.70v12M1099.75 630.70v6M1153.60 630.70v12M1207.45 630.70v6M1261.30 630.70v12M1315.15 630.70v6M1369.00 630.70v12M830.50 630.70h-12M830.50 576.88h-6M830.50 523.06h-12M830.50 469.24h-6M830.50 415.42h-12M830.50 361.60h-6M830.50 307.78h-12M830.50 253.96h-6M830.50 200.14h-12M830.50 146.32h-6M830.50 92.50h-12" stroke="#000" stroke-width="1.90" fill="none"/>
<g font-size="26.60"><text x="830.50" y="668.00" text-anchor="middle">0</text><text x="938.20" y="668.00" text-anchor="middle">2</text><text x="1045.90" y="668.00" text-anchor="middle">4</text><text x="1153.60" y="668.00" text-anchor="middle">6</text><text x="1261.30" y="668.00" text-anchor="middle">8</text><text x="1369.00" y="668.00" text-anchor="middle">10</text><text x="812.00" y="640.10" text-anchor="end">0</text><text x="812.00" y="532.46" text-anchor="end">2</text><text x="812.00" y="424.82" text-anchor="end">4</text><text x="812.00" y="317.18" text-anchor="end">6</text><text x="812.00" y="209.54" text-anchor="end">8</text><text x="812.00" y="101.90" text-anchor="end">10</text></g>
<text x="1099.75" y="706.20" font-size="27.1" text-anchor="middle">NH-land Near-Surface Air Temperature [°C]</text>
<text transform="translate(764.70 361.60) rotate(-90)" font-size="27.3" text-anchor="middle">HMA Near-Surface Air Temperature [°C]</text>
<text x="1103.75" y="77.90" font-size="29.60" text-anchor="middle">Annual HMA tas vs. NH-land tas</text>
<text x="833.60" y="128.80" font-size="28.95" font-weight="bold" letter-spacing="1.50" stroke="#fff" stroke-width="4.5" stroke-linejoin="round" paint-order="stroke">(b)</text>
<text x="1353.50" y="128.40" font-size="29.75" text-anchor="end" stroke="#fff" stroke-width="4.5" stroke-linejoin="round" paint-order="stroke">y = 1.01x + 0.11 (0.56)</text>
</g>
<g id="pc">
<path d="M1604.50 92.50V630.70M1712.20 92.50V630.70M1819.90 92.50V630.70M1927.60 92.50V630.70M1496.80 523.06H2035.30M1496.80 415.42H2035.30M1496.80 307.78H2035.30M1496.80 200.14H2035.30" stroke="#000" stroke-opacity="0.15" stroke-width="1.5" fill="none"/>
<clipPath id="cc"><rect x="1496.80" y="92.50" width="538.50" height="538.20"/></clipPath>
<g clip-path="url(#cc)">
<g fill-opacity="0.8"><circle cx="1881.1" cy="151.8" r="5.3" fill="#840b22"/><circle cx="1825.3" cy="223.0" r="5.3" fill="#840b22"/><circle cx="1821.1" cy="258.1" r="5.3" fill="#840b22"/><circle cx="1799.7" cy="262.5" r="5.3" fill="#840b22"/><circle cx="1878.7" cy="273.3" r="5.3" fill="#840b22"/><circle cx="1786.9" cy="284.5" r="5.3" fill="#840b22"/><circle cx="1763.5" cy="298.3" r="5.3" fill="#840b22"/><circle cx="1744.2" cy="321.1" r="5.3" fill="#840b22"/><circle cx="1821.9" cy="336.1" r="5.3" fill="#840b22"/><circle cx="1758.3" cy="337.9" r="5.3" fill="#840b22"/><circle cx="1732.0" cy="342.9" r="5.3" fill="#840b22"/><circle cx="1707.0" cy="367.9" r="5.3" fill="#840b22"/><circle cx="1725.0" cy="365.5" r="5.3" fill="#840b22"/><circle cx="1733.0" cy="366.3" r="5.3" fill="#840b22"/><circle cx="1720.6" cy="379.3" r="5.3" fill="#840b22"/><circle cx="1698.0" cy="381.5" r="5.3" fill="#840b22"/><circle cx="1705.0" cy="384.3" r="5.3" fill="#840b22"/><circle cx="1728.0" cy="388.5" r="5.3" fill="#840b22"/><circle cx="1763.3" cy="389.3" r="5.3" fill="#840b22"/><circle cx="1681.2" cy="408.1" r="5.3" fill="#840b22"/><circle cx="1690.0" cy="408.1" r="5.3" fill="#840b22"/><circle cx="1688.1" cy="414.4" r="5.3" fill="#840b22"/><circle cx="1663.1" cy="426.0" r="5.3" fill="#840b22"/><circle cx="1656.2" cy="433.1" r="5.3" fill="#840b22"/><circle cx="1707.8" cy="433.5" r="5.3" fill="#840b22"/><circle cx="1667.5" cy="454.4" r="5.3" fill="#840b22"/><circle cx="1623.8" cy="466.2" r="5.3" fill="#840b22"/><circle cx="1629.4" cy="464.4" r="5.3" fill="#840b22"/><circle cx="1651.0" cy="465.2" r="5.3" fill="#840b22"/><circle cx="1609.4" cy="472.5" r="5.3" fill="#840b22"/><circle cx="1656.5" cy="484.0" r="5.3" fill="#840b22"/><circle cx="1629.4" cy="483.8" r="5.3" fill="#840b22"/><circle cx="1631.9" cy="491.9" r="5.3" fill="#840b22"/><circle cx="1643.5" cy="494.0" r="5.3" fill="#840b22"/><circle cx="1592.5" cy="507.5" r="5.3" fill="#840b22"/><circle cx="1598.1" cy="530.0" r="5.3" fill="#840b22"/><circle cx="1608.2" cy="532.5" r="5.3" fill="#840b22"/><circle cx="1574.6" cy="512.6" r="5.3" fill="#840b22"/><circle cx="1583.8" cy="543.5" r="5.3" fill="#840b22"/><circle cx="1548.7" cy="559.4" r="5.3" fill="#840b22"/><circle cx="1567.5" cy="569.4" r="5.3" fill="#840b22"/><circle cx="1530.3" cy="581.9" r="5.3" fill="#840b22"/><circle cx="1625.5" cy="491.3" r="5.3" fill="#840b22"/><circle cx="1811.5" cy="239.7" r="5.3" fill="#f21111"/><circle cx="1766.5" cy="294.9" r="5.3" fill="#f21111"/><circle cx="1805.9" cy="328.5" r="5.3" fill="#f21111"/><circle cx="1725.4" cy="335.3" r="5.3" fill="#f21111"/><circle cx="1724.6" cy="348.3" r="5.3" fill="#f21111"/><circle cx="1738.0" cy="357.5" r="5.3" fill="#f21111"/><circle cx="1716.0" cy="367.9" r="5.3" fill="#f21111"/><circle cx="1756.3" cy="372.3" r="5.3" fill="#f21111"/><circle cx="1686.4" cy="378.7" r="5.3" fill="#f21111"/><circle cx="1687.0" cy="393.5" r="5.3" fill="#f21111"/><circle cx="1706.0" cy="393.1" r="5.3" fill="#f21111"/><circle cx="1698.1" cy="410.0" r="5.3" fill="#f21111"/><circle cx="1701.2" cy="417.5" r="5.3" fill="#f21111"/><circle cx="1716.9" cy="418.1" r="5.3" fill="#f21111"/><circle cx="1678.8" cy="421.9" r="5.3" fill="#f21111"/><circle cx="1670.6" cy="430.0" r="5.3" fill="#f21111"/><circle cx="1646.9" cy="431.2" r="5.3" fill="#f21111"/><circle cx="1655.0" cy="435.0" r="5.3" fill="#f21111"/><circle cx="1670.0" cy="435.0" r="5.3" fill="#f21111"/><circle cx="1664.4" cy="439.4" r="5.3" fill="#f21111"/><circle cx="1675.6" cy="445.0" r="5.3" fill="#f21111"/><circle cx="1650.0" cy="451.2" r="5.3" fill="#f21111"/><circle cx="1644.4" cy="455.0" r="5.3" fill="#f21111"/><circle cx="1658.1" cy="458.1" r="5.3" fill="#f21111"/><circle cx="1681.0" cy="457.5" r="5.3" fill="#f21111"/><circle cx="1630.0" cy="470.0" r="5.3" fill="#f21111"/><circle cx="1608.1" cy="476.9" r="5.3" fill="#f21111"/><circle cx="1640.0" cy="478.8" r="5.3" fill="#f21111"/><circle cx="1625.0" cy="494.4" r="5.3" fill="#f21111"/><circle cx="1597.5" cy="500.0" r="5.3" fill="#f21111"/><circle cx="1610.0" cy="517.5" r="5.3" fill="#f21111"/><circle cx="1608.8" cy="527.5" r="5.3" fill="#f21111"/><circle cx="1571.2" cy="517.6" r="5.3" fill="#f21111"/><circle cx="1545.3" cy="558.5" r="5.3" fill="#f21111"/><circle cx="1568.7" cy="566.9" r="5.3" fill="#f21111"/><circle cx="1527.8" cy="582.8" r="5.3" fill="#f21111"/><circle cx="1527.3" cy="589.5" r="5.3" fill="#f21111"/><circle cx="1525.3" cy="597.8" r="5.3" fill="#f21111"/><circle cx="1609.0" cy="515.6" r="5.3" fill="#f21111"/><circle cx="1610.7" cy="519.1" r="5.3" fill="#f21111"/><circle cx="1699.4" cy="409.6" r="5.3" fill="#f21111"/><circle cx="1701.1" cy="417.4" r="5.3" fill="#f21111"/><circle cx="1668.1" cy="432.2" r="5.3" fill="#f21111"/><circle cx="1669.9" cy="435.6" r="5.3" fill="#f21111"/><circle cx="1647.3" cy="431.3" r="5.3" fill="#f21111"/><circle cx="1628.1" cy="477.4" r="5.3" fill="#f21111"/><circle cx="1705.0" cy="374.1" r="5.3" fill="#eadd3d"/><circle cx="1693.0" cy="389.3" r="5.3" fill="#eadd3d"/><circle cx="1678.8" cy="403.8" r="5.3" fill="#eadd3d"/><circle cx="1722.5" cy="418.8" r="5.3" fill="#eadd3d"/><circle cx="1669.4" cy="422.5" r="5.3" fill="#eadd3d"/><circle cx="1649.8" cy="431.0" r="5.3" fill="#eadd3d"/><circle cx="1699.0" cy="442.2" r="5.3" fill="#eadd3d"/><circle cx="1646.9" cy="444.4" r="5.3" fill="#eadd3d"/><circle cx="1655.0" cy="443.1" r="5.3" fill="#eadd3d"/><circle cx="1663.1" cy="448.1" r="5.3" fill="#eadd3d"/><circle cx="1618.8" cy="460.0" r="5.3" fill="#eadd3d"/><circle cx="1637.2" cy="460.0" r="5.3" fill="#eadd3d"/><circle cx="1632.5" cy="466.2" r="5.3" fill="#eadd3d"/><circle cx="1674.8" cy="466.0" r="5.3" fill="#eadd3d"/><circle cx="1644.4" cy="470.0" r="5.3" fill="#eadd3d"/><circle cx="1647.5" cy="473.8" r="5.3" fill="#eadd3d"/><circle cx="1613.8" cy="476.9" r="5.3" fill="#eadd3d"/><circle cx="1623.8" cy="473.8" r="5.3" fill="#eadd3d"/><circle cx="1601.9" cy="481.2" r="5.3" fill="#eadd3d"/><circle cx="1654.6" cy="483.5" r="5.3" fill="#eadd3d"/><circle cx="1594.1" cy="493.1" r="5.3" fill="#eadd3d"/><circle cx="1622.5" cy="500.6" r="5.3" fill="#eadd3d"/><circle cx="1586.2" cy="505.0" r="5.3" fill="#eadd3d"/><circle cx="1590.6" cy="509.4" r="5.3" fill="#eadd3d"/><circle cx="1611.2" cy="506.2" r="5.3" fill="#eadd3d"/><circle cx="1625.6" cy="511.9" r="5.3" fill="#eadd3d"/><circle cx="1606.9" cy="515.6" r="5.3" fill="#eadd3d"/><circle cx="1595.6" cy="541.9" r="5.3" fill="#eadd3d"/><circle cx="1568.7" cy="520.9" r="5.3" fill="#eadd3d"/><circle cx="1555.8" cy="538.5" r="5.3" fill="#eadd3d"/><circle cx="1562.9" cy="536.8" r="5.3" fill="#eadd3d"/><circle cx="1534.9" cy="566.9" r="5.3" fill="#eadd3d"/><circle cx="1541.1" cy="570.2" r="5.3" fill="#eadd3d"/><circle cx="1556.2" cy="574.4" r="5.3" fill="#eadd3d"/><circle cx="1537.8" cy="597.0" r="5.3" fill="#eadd3d"/><circle cx="1531.9" cy="594.5" r="5.3" fill="#eadd3d"/><circle cx="1621.2" cy="473.9" r="5.3" fill="#eadd3d"/><circle cx="1616.0" cy="477.4" r="5.3" fill="#eadd3d"/><circle cx="1628.1" cy="466.9" r="5.3" fill="#eadd3d"/><circle cx="1635.1" cy="461.7" r="5.3" fill="#eadd3d"/><circle cx="1610.7" cy="501.7" r="5.3" fill="#eadd3d"/><circle cx="1607.3" cy="508.7" r="5.3" fill="#eadd3d"/><circle cx="1593.4" cy="508.7" r="5.3" fill="#eadd3d"/><circle cx="1588.1" cy="506.9" r="5.3" fill="#eadd3d"/><circle cx="1598.6" cy="517.3" r="5.3" fill="#eadd3d"/><circle cx="1602.1" cy="519.1" r="5.3" fill="#eadd3d"/><circle cx="1620.2" cy="478.8" r="5.3" fill="#1d3354"/><circle cx="1613.8" cy="487.5" r="5.3" fill="#1d3354"/><circle cx="1623.1" cy="485.6" r="5.3" fill="#1d3354"/><circle cx="1648.1" cy="491.9" r="5.3" fill="#1d3354"/><circle cx="1643.8" cy="494.4" r="5.3" fill="#1d3354"/><circle cx="1606.5" cy="496.9" r="5.3" fill="#1d3354"/><circle cx="1635.9" cy="500.9" r="5.3" fill="#1d3354"/><circle cx="1608.1" cy="503.8" r="5.3" fill="#1d3354"/><circle cx="1606.2" cy="512.5" r="5.3" fill="#1d3354"/><circle cx="1625.0" cy="515.2" r="5.3" fill="#1d3354"/><circle cx="1600.6" cy="513.8" r="5.3" fill="#1d3354"/><circle cx="1585.0" cy="518.8" r="5.3" fill="#1d3354"/><circle cx="1591.2" cy="523.8" r="5.3" fill="#1d3354"/><circle cx="1608.5" cy="532.8" r="5.3" fill="#1d3354"/><circle cx="1585.0" cy="535.0" r="5.3" fill="#1d3354"/><circle cx="1592.5" cy="546.0" r="5.3" fill="#1d3354"/><circle cx="1576.2" cy="520.1" r="5.3" fill="#1d3354"/><circle cx="1584.6" cy="516.7" r="5.3" fill="#1d3354"/><circle cx="1571.2" cy="527.6" r="5.3" fill="#1d3354"/><circle cx="1579.6" cy="525.1" r="5.3" fill="#1d3354"/><circle cx="1576.2" cy="531.8" r="5.3" fill="#1d3354"/><circle cx="1583.8" cy="530.1" r="5.3" fill="#1d3354"/><circle cx="1586.3" cy="523.4" r="5.3" fill="#1d3354"/><circle cx="1561.2" cy="542.7" r="5.3" fill="#1d3354"/><circle cx="1571.2" cy="538.5" r="5.3" fill="#1d3354"/><circle cx="1579.6" cy="538.5" r="5.3" fill="#1d3354"/><circle cx="1567.9" cy="546.8" r="5.3" fill="#1d3354"/><circle cx="1575.4" cy="544.3" r="5.3" fill="#1d3354"/><circle cx="1582.9" cy="546.8" r="5.3" fill="#1d3354"/><circle cx="1549.5" cy="554.4" r="5.3" fill="#1d3354"/><circle cx="1559.5" cy="552.7" r="5.3" fill="#1d3354"/><circle cx="1567.0" cy="553.5" r="5.3" fill="#1d3354"/><circle cx="1571.2" cy="551.0" r="5.3" fill="#1d3354"/><circle cx="1547.0" cy="563.5" r="5.3" fill="#1d3354"/><circle cx="1554.5" cy="561.0" r="5.3" fill="#1d3354"/><circle cx="1562.9" cy="559.4" r="5.3" fill="#1d3354"/><circle cx="1558.7" cy="566.9" r="5.3" fill="#1d3354"/><circle cx="1566.2" cy="564.4" r="5.3" fill="#1d3354"/><circle cx="1567.0" cy="568.6" r="5.3" fill="#1d3354"/><circle cx="1531.1" cy="576.9" r="5.3" fill="#1d3354"/><circle cx="1540.3" cy="576.1" r="5.3" fill="#1d3354"/><circle cx="1549.5" cy="576.9" r="5.3" fill="#1d3354"/><circle cx="1545.3" cy="581.1" r="5.3" fill="#1d3354"/><circle cx="1535.3" cy="584.4" r="5.3" fill="#1d3354"/><circle cx="1541.1" cy="589.5" r="5.3" fill="#1d3354"/><circle cx="1536.1" cy="592.0" r="5.3" fill="#1d3354"/><circle cx="1530.7" cy="597.8" r="5.3" fill="#1d3354"/><circle cx="1573.7" cy="525.1" r="5.3" fill="#1d3354"/><circle cx="1577.9" cy="528.4" r="5.3" fill="#1d3354"/><circle cx="1581.2" cy="533.5" r="5.3" fill="#1d3354"/><circle cx="1574.6" cy="536.8" r="5.3" fill="#1d3354"/><circle cx="1569.5" cy="533.5" r="5.3" fill="#1d3354"/><circle cx="1566.2" cy="541.8" r="5.3" fill="#1d3354"/><circle cx="1572.9" cy="543.5" r="5.3" fill="#1d3354"/><circle cx="1562.9" cy="548.5" r="5.3" fill="#1d3354"/><circle cx="1569.5" cy="550.2" r="5.3" fill="#1d3354"/><circle cx="1556.2" cy="556.9" r="5.3" fill="#1d3354"/><circle cx="1561.2" cy="556.0" r="5.3" fill="#1d3354"/><circle cx="1551.2" cy="566.9" r="5.3" fill="#1d3354"/><circle cx="1556.2" cy="570.2" r="5.3" fill="#1d3354"/><circle cx="1542.8" cy="571.9" r="5.3" fill="#1d3354"/><circle cx="1536.1" cy="578.6" r="5.3" fill="#1d3354"/><circle cx="1542.8" cy="583.6" r="5.3" fill="#1d3354"/><circle cx="1585.0" cy="518.8" r="5.3" fill="#1d3354"/><circle cx="1585.0" cy="535.0" r="5.3" fill="#1d3354"/><circle cx="1587.9" cy="527.6" r="5.3" fill="#1d3354"/><circle cx="1617.7" cy="482.6" r="5.3" fill="#1d3354"/><circle cx="1624.7" cy="484.3" r="5.3" fill="#1d3354"/><circle cx="1622.0" cy="480.0" r="5.3" fill="#1d3354"/><circle cx="1616.0" cy="487.8" r="5.3" fill="#1d3354"/><circle cx="1607.3" cy="498.2" r="5.3" fill="#1d3354"/><circle cx="1609.0" cy="505.2" r="5.3" fill="#1d3354"/><circle cx="1603.8" cy="512.1" r="5.3" fill="#1d3354"/><circle cx="1572.5" cy="527.8" r="5.3" fill="#1d3354"/><circle cx="1577.7" cy="531.3" r="5.3" fill="#1d3354"/><circle cx="1582.9" cy="526.0" r="5.3" fill="#1d3354"/><circle cx="1570.8" cy="533.0" r="5.3" fill="#1d3354"/><circle cx="1576.0" cy="524.3" r="5.3" fill="#1d3354"/><circle cx="1562.1" cy="546.9" r="5.3" fill="#1d3354"/><circle cx="1565.5" cy="552.1" r="5.3" fill="#1d3354"/><circle cx="1556.8" cy="555.6" r="5.3" fill="#1d3354"/><circle cx="1553.4" cy="560.8" r="5.3" fill="#1d3354"/><circle cx="1548.2" cy="564.3" r="5.3" fill="#1d3354"/><circle cx="1537.7" cy="578.2" r="5.3" fill="#1d3354"/><circle cx="1541.2" cy="588.6" r="5.3" fill="#1d3354"/><circle cx="1534.2" cy="583.4" r="5.3" fill="#1d3354"/></g>
<path d="M1496.80 630.70L2035.30 92.50" stroke="#000" stroke-width="1.45" stroke-dasharray="5.4 2.5" fill="none"/>
<path d="M1496.80 626.93L2035.30 29.53" stroke="#111" stroke-width="2.3" fill="none"/>
</g>
<rect x="1496.80" y="92.50" width="538.50" height="538.20" fill="none" stroke="#000" stroke-width="1.90"/>
<path d="M1496.80 630.70v12M1550.65 630.70v6M1604.50 630.70v12M1658.35 630.70v6M1712.20 630.70v12M1766.05 630.70v6M1819.90 630.70v12M1873.75 630.70v6M1927.60 630.70v12M1981.45 630.70v6M2035.30 630.70v12M1496.80 630.70h-12M1496.80 576.88h-6M1496.80 523.06h-12M1496.80 469.24h-6M1496.80 415.42h-12M1496.80 361.60h-6M1496.80 307.78h-12M1496.80 253.96h-6M1496.80 200.14h-12M1496.80 146.32h-6M1496.80 92.50h-12" stroke="#000" stroke-width="1.90" fill="none"/>
<g font-size="26.60"><text x="1496.80" y="668.00" text-anchor="middle">0</text><text x="1604.50" y="668.00" text-anchor="middle">2</text><text x="1712.20" y="668.00" text-anchor="middle">4</text><text x="1819.90" y="668.00" text-anchor="middle">6</text><text x="1927.60" y="668.00" text-anchor="middle">8</text><text x="2035.30" y="668.00" text-anchor="middle">10</text><text x="1478.30" y="640.10" text-anchor="end">0</text><text x="1478.30" y="532.46" text-anchor="end">2</text><text x="1478.30" y="424.82" text-anchor="end">4</text><text x="1478.30" y="317.18" text-anchor="end">6</text><text x="1478.30" y="209.54" text-anchor="end">8</text><text x="1478.30" y="101.90" text-anchor="end">10</text></g>
<text x="1766.05" y="706.20" font-size="27.1" text-anchor="middle">NH-land-60 Near-Surface Air Temperature [°C]</text>
<text transform="translate(1431.30 361.60) rotate(-90)" font-size="27.3" text-anchor="middle">HMA Near-Surface Air Temperature [°C]</text>
<text x="1770.05" y="77.90" font-size="29.60" text-anchor="middle">Annual HMA tas vs. NH-land (&lt;60°N) tas</text>
<text x="1500.00" y="128.80" font-size="28.95" font-weight="bold" letter-spacing="1.50" stroke="#fff" stroke-width="4.5" stroke-linejoin="round" paint-order="stroke">(c)</text>
<text x="2019.80" y="128.40" font-size="29.75" text-anchor="end" stroke="#fff" stroke-width="4.5" stroke-linejoin="round" paint-order="stroke">y = 1.11x + 0.07 (0.00)</text>
</g>
<g id="pd">
<path d="M241.20 777.90V1316.10M348.90 777.90V1316.10M456.60 777.90V1316.10M564.30 777.90V1316.10M133.50 1208.46H672.00M133.50 1100.82H672.00M133.50 993.18H672.00M133.50 885.54H672.00" stroke="#000" stroke-opacity="0.15" stroke-width="1.5" fill="none"/>
<clipPath id="cd"><rect x="133.50" y="777.90" width="538.50" height="538.20"/></clipPath>
<g clip-path="url(#cd)">
<g fill-opacity="0.8"><circle cx="303.0" cy="946.9" r="5.3" fill="#840b22"/><circle cx="386.1" cy="919.4" r="5.3" fill="#840b22"/><circle cx="276.8" cy="902.2" r="5.3" fill="#840b22"/><circle cx="294.9" cy="899.4" r="5.3" fill="#840b22"/><circle cx="302.6" cy="897.5" r="5.3" fill="#840b22"/><circle cx="265.5" cy="885.6" r="5.3" fill="#840b22"/><circle cx="237.8" cy="880.2" r="5.3" fill="#840b22"/><circle cx="252.4" cy="876.2" r="5.3" fill="#840b22"/><circle cx="263.0" cy="877.5" r="5.3" fill="#840b22"/><circle cx="214.9" cy="865.0" r="5.3" fill="#840b22"/><circle cx="236.1" cy="859.8" r="5.3" fill="#840b22"/><circle cx="194.6" cy="856.0" r="5.3" fill="#840b22"/><circle cx="339.9" cy="885.0" r="5.3" fill="#840b22"/><circle cx="374.9" cy="875.6" r="5.3" fill="#840b22"/><circle cx="364.0" cy="858.5" r="5.3" fill="#840b22"/><circle cx="370.2" cy="852.2" r="5.3" fill="#840b22"/><circle cx="380.8" cy="856.5" r="5.3" fill="#840b22"/><circle cx="295.9" cy="854.4" r="5.3" fill="#840b22"/><circle cx="237.8" cy="843.8" r="5.3" fill="#840b22"/><circle cx="209.2" cy="853.1" r="5.3" fill="#840b22"/><circle cx="217.4" cy="836.9" r="5.3" fill="#840b22"/><circle cx="174.9" cy="841.0" r="5.3" fill="#840b22"/><circle cx="260.2" cy="838.1" r="5.3" fill="#840b22"/><circle cx="253.0" cy="829.4" r="5.3" fill="#840b22"/><circle cx="261.8" cy="826.9" r="5.3" fill="#840b22"/><circle cx="316.1" cy="842.5" r="5.3" fill="#840b22"/><circle cx="330.5" cy="844.4" r="5.3" fill="#840b22"/><circle cx="328.0" cy="837.5" r="5.3" fill="#840b22"/><circle cx="342.6" cy="842.9" r="5.3" fill="#840b22"/><circle cx="335.8" cy="831.9" r="5.3" fill="#840b22"/><circle cx="296.8" cy="830.0" r="5.3" fill="#840b22"/><circle cx="294.2" cy="816.9" r="5.3" fill="#840b22"/><circle cx="216.6" cy="797.9" r="5.3" fill="#840b22"/><circle cx="219.1" cy="823.0" r="5.3" fill="#840b22"/><circle cx="154.3" cy="822.1" r="5.3" fill="#840b22"/><circle cx="168.1" cy="826.3" r="5.3" fill="#840b22"/><circle cx="204.0" cy="829.7" r="5.3" fill="#840b22"/><circle cx="178.1" cy="813.8" r="5.3" fill="#840b22"/><circle cx="425.6" cy="892.1" r="5.3" fill="#840b22"/><circle cx="430.1" cy="956.9" r="5.3" fill="#840b22"/><circle cx="379.5" cy="912.2" r="5.3" fill="#f21111"/><circle cx="285.2" cy="895.6" r="5.3" fill="#f21111"/><circle cx="264.9" cy="891.9" r="5.3" fill="#f21111"/><circle cx="256.8" cy="886.2" r="5.3" fill="#f21111"/><circle cx="244.6" cy="884.0" r="5.3" fill="#f21111"/><circle cx="238.6" cy="871.5" r="5.3" fill="#f21111"/><circle cx="243.6" cy="874.4" r="5.3" fill="#f21111"/><circle cx="264.6" cy="878.1" r="5.3" fill="#f21111"/><circle cx="220.5" cy="866.2" r="5.3" fill="#f21111"/><circle cx="223.0" cy="857.5" r="5.3" fill="#f21111"/><circle cx="260.8" cy="862.8" r="5.3" fill="#f21111"/><circle cx="278.4" cy="865.0" r="5.3" fill="#f21111"/><circle cx="311.8" cy="868.8" r="5.3" fill="#f21111"/><circle cx="334.0" cy="866.0" r="5.3" fill="#f21111"/><circle cx="344.2" cy="876.0" r="5.3" fill="#f21111"/><circle cx="372.4" cy="880.0" r="5.3" fill="#f21111"/><circle cx="279.2" cy="853.5" r="5.3" fill="#f21111"/><circle cx="243.0" cy="852.8" r="5.3" fill="#f21111"/><circle cx="246.1" cy="848.1" r="5.3" fill="#f21111"/><circle cx="208.0" cy="850.0" r="5.3" fill="#f21111"/><circle cx="207.4" cy="840.0" r="5.3" fill="#f21111"/><circle cx="301.8" cy="846.9" r="5.3" fill="#f21111"/><circle cx="319.2" cy="840.0" r="5.3" fill="#f21111"/><circle cx="319.0" cy="829.4" r="5.3" fill="#f21111"/><circle cx="309.9" cy="831.9" r="5.3" fill="#f21111"/><circle cx="299.9" cy="826.9" r="5.3" fill="#f21111"/><circle cx="289.2" cy="820.0" r="5.3" fill="#f21111"/><circle cx="288.0" cy="816.2" r="5.3" fill="#f21111"/><circle cx="276.1" cy="810.6" r="5.3" fill="#f21111"/><circle cx="261.8" cy="816.9" r="5.3" fill="#f21111"/><circle cx="154.7" cy="780.4" r="5.3" fill="#f21111"/><circle cx="206.5" cy="808.8" r="5.3" fill="#f21111"/><circle cx="198.2" cy="807.9" r="5.3" fill="#f21111"/><circle cx="215.7" cy="818.8" r="5.3" fill="#f21111"/><circle cx="168.9" cy="829.7" r="5.3" fill="#f21111"/><circle cx="195.3" cy="834.3" r="5.3" fill="#f21111"/><circle cx="171.4" cy="812.1" r="5.3" fill="#f21111"/><circle cx="164.8" cy="817.1" r="5.3" fill="#f21111"/><circle cx="223.3" cy="823.8" r="5.3" fill="#f21111"/><circle cx="218.4" cy="874.4" r="5.3" fill="#eadd3d"/><circle cx="205.2" cy="866.5" r="5.3" fill="#eadd3d"/><circle cx="213.0" cy="861.2" r="5.3" fill="#eadd3d"/><circle cx="228.0" cy="863.8" r="5.3" fill="#eadd3d"/><circle cx="296.1" cy="865.6" r="5.3" fill="#eadd3d"/><circle cx="228.6" cy="850.6" r="5.3" fill="#eadd3d"/><circle cx="218.0" cy="851.2" r="5.3" fill="#eadd3d"/><circle cx="210.5" cy="847.2" r="5.3" fill="#eadd3d"/><circle cx="203.6" cy="843.8" r="5.3" fill="#eadd3d"/><circle cx="216.1" cy="841.9" r="5.3" fill="#eadd3d"/><circle cx="222.4" cy="843.8" r="5.3" fill="#eadd3d"/><circle cx="193.0" cy="844.4" r="5.3" fill="#eadd3d"/><circle cx="171.8" cy="841.9" r="5.3" fill="#eadd3d"/><circle cx="273.6" cy="829.8" r="5.3" fill="#eadd3d"/><circle cx="288.2" cy="834.0" r="5.3" fill="#eadd3d"/><circle cx="286.8" cy="844.4" r="5.3" fill="#eadd3d"/><circle cx="305.9" cy="842.2" r="5.3" fill="#eadd3d"/><circle cx="277.4" cy="818.1" r="5.3" fill="#eadd3d"/><circle cx="265.5" cy="811.9" r="5.3" fill="#eadd3d"/><circle cx="261.8" cy="807.5" r="5.3" fill="#eadd3d"/><circle cx="251.8" cy="815.0" r="5.3" fill="#eadd3d"/><circle cx="249.2" cy="823.8" r="5.3" fill="#eadd3d"/><circle cx="235.5" cy="826.2" r="5.3" fill="#eadd3d"/><circle cx="225.5" cy="827.5" r="5.3" fill="#eadd3d"/><circle cx="160.6" cy="780.4" r="5.3" fill="#eadd3d"/><circle cx="168.1" cy="779.9" r="5.3" fill="#eadd3d"/><circle cx="183.1" cy="781.2" r="5.3" fill="#eadd3d"/><circle cx="237.9" cy="790.8" r="5.3" fill="#eadd3d"/><circle cx="254.6" cy="797.1" r="5.3" fill="#eadd3d"/><circle cx="212.4" cy="805.4" r="5.3" fill="#eadd3d"/><circle cx="218.2" cy="807.9" r="5.3" fill="#eadd3d"/><circle cx="224.1" cy="805.4" r="5.3" fill="#eadd3d"/><circle cx="216.6" cy="811.3" r="5.3" fill="#eadd3d"/><circle cx="201.5" cy="814.6" r="5.3" fill="#eadd3d"/><circle cx="155.6" cy="833.8" r="5.3" fill="#eadd3d"/><circle cx="179.8" cy="825.5" r="5.3" fill="#eadd3d"/><circle cx="193.2" cy="832.2" r="5.3" fill="#eadd3d"/><circle cx="206.5" cy="828.8" r="5.3" fill="#eadd3d"/><circle cx="173.1" cy="809.6" r="5.3" fill="#eadd3d"/><circle cx="231.6" cy="811.3" r="5.3" fill="#eadd3d"/><circle cx="224.9" cy="812.1" r="5.3" fill="#eadd3d"/><circle cx="227.4" cy="825.5" r="5.3" fill="#eadd3d"/><circle cx="160.6" cy="787.9" r="5.3" fill="#1d3354"/><circle cx="166.4" cy="786.2" r="5.3" fill="#1d3354"/><circle cx="173.1" cy="784.5" r="5.3" fill="#1d3354"/><circle cx="179.8" cy="785.4" r="5.3" fill="#1d3354"/><circle cx="186.5" cy="786.2" r="5.3" fill="#1d3354"/><circle cx="191.5" cy="783.7" r="5.3" fill="#1d3354"/><circle cx="205.7" cy="781.2" r="5.3" fill="#1d3354"/><circle cx="204.9" cy="786.2" r="5.3" fill="#1d3354"/><circle cx="202.4" cy="791.2" r="5.3" fill="#1d3354"/><circle cx="196.5" cy="793.7" r="5.3" fill="#1d3354"/><circle cx="190.7" cy="791.2" r="5.3" fill="#1d3354"/><circle cx="184.8" cy="792.9" r="5.3" fill="#1d3354"/><circle cx="178.1" cy="791.2" r="5.3" fill="#1d3354"/><circle cx="171.4" cy="792.9" r="5.3" fill="#1d3354"/><circle cx="191.5" cy="799.6" r="5.3" fill="#1d3354"/><circle cx="198.2" cy="799.6" r="5.3" fill="#1d3354"/><circle cx="203.2" cy="796.2" r="5.3" fill="#1d3354"/><circle cx="216.6" cy="791.2" r="5.3" fill="#1d3354"/><circle cx="221.6" cy="789.6" r="5.3" fill="#1d3354"/><circle cx="224.9" cy="794.6" r="5.3" fill="#1d3354"/><circle cx="229.9" cy="795.4" r="5.3" fill="#1d3354"/><circle cx="220.8" cy="798.7" r="5.3" fill="#1d3354"/><circle cx="214.9" cy="796.2" r="5.3" fill="#1d3354"/><circle cx="241.7" cy="799.6" r="5.3" fill="#1d3354"/><circle cx="244.2" cy="805.4" r="5.3" fill="#1d3354"/><circle cx="233.3" cy="807.1" r="5.3" fill="#1d3354"/><circle cx="239.1" cy="803.8" r="5.3" fill="#1d3354"/><circle cx="229.1" cy="815.5" r="5.3" fill="#1d3354"/><circle cx="226.6" cy="818.8" r="5.3" fill="#1d3354"/><circle cx="219.9" cy="823.0" r="5.3" fill="#1d3354"/><circle cx="169.8" cy="803.8" r="5.3" fill="#1d3354"/><circle cx="179.8" cy="807.1" r="5.3" fill="#1d3354"/><circle cx="184.8" cy="811.3" r="5.3" fill="#1d3354"/><circle cx="189.8" cy="816.3" r="5.3" fill="#1d3354"/><circle cx="188.2" cy="821.3" r="5.3" fill="#1d3354"/><circle cx="182.3" cy="817.1" r="5.3" fill="#1d3354"/><circle cx="174.8" cy="820.5" r="5.3" fill="#1d3354"/><circle cx="164.8" cy="823.8" r="5.3" fill="#1d3354"/><circle cx="154.5" cy="822.3" r="5.3" fill="#1d3354"/><circle cx="181.5" cy="833.8" r="5.3" fill="#1d3354"/><circle cx="188.2" cy="837.2" r="5.3" fill="#1d3354"/><circle cx="184.8" cy="838.9" r="5.3" fill="#1d3354"/><circle cx="176.5" cy="787.9" r="5.3" fill="#1d3354"/><circle cx="183.1" cy="788.7" r="5.3" fill="#1d3354"/><circle cx="194.8" cy="787.9" r="5.3" fill="#1d3354"/><circle cx="198.2" cy="791.2" r="5.3" fill="#1d3354"/><circle cx="188.2" cy="796.2" r="5.3" fill="#1d3354"/><circle cx="181.5" cy="797.1" r="5.3" fill="#1d3354"/><circle cx="174.8" cy="797.1" r="5.3" fill="#1d3354"/><circle cx="206.5" cy="792.9" r="5.3" fill="#1d3354"/><circle cx="227.4" cy="799.6" r="5.3" fill="#1d3354"/><circle cx="236.6" cy="810.4" r="5.3" fill="#1d3354"/><circle cx="186.5" cy="805.4" r="5.3" fill="#1d3354"/><circle cx="191.5" cy="808.8" r="5.3" fill="#1d3354"/><circle cx="184.8" cy="834.7" r="5.3" fill="#1d3354"/><circle cx="161.8" cy="787.5" r="5.3" fill="#1d3354"/><circle cx="166.8" cy="791.2" r="5.3" fill="#1d3354"/><circle cx="173.0" cy="791.2" r="5.3" fill="#1d3354"/><circle cx="178.0" cy="793.8" r="5.3" fill="#1d3354"/><circle cx="183.0" cy="795.0" r="5.3" fill="#1d3354"/><circle cx="188.0" cy="797.5" r="5.3" fill="#1d3354"/><circle cx="193.0" cy="793.8" r="5.3" fill="#1d3354"/><circle cx="198.0" cy="790.0" r="5.3" fill="#1d3354"/><circle cx="203.0" cy="795.0" r="5.3" fill="#1d3354"/><circle cx="205.5" cy="800.0" r="5.3" fill="#1d3354"/><circle cx="200.5" cy="805.0" r="5.3" fill="#1d3354"/><circle cx="195.5" cy="802.5" r="5.3" fill="#1d3354"/><circle cx="190.5" cy="805.0" r="5.3" fill="#1d3354"/><circle cx="185.5" cy="807.5" r="5.3" fill="#1d3354"/><circle cx="180.5" cy="805.0" r="5.3" fill="#1d3354"/><circle cx="175.5" cy="801.2" r="5.3" fill="#1d3354"/><circle cx="203.0" cy="786.2" r="5.3" fill="#1d3354"/><circle cx="208.0" cy="791.2" r="5.3" fill="#1d3354"/><circle cx="188.0" cy="787.5" r="5.3" fill="#1d3354"/><circle cx="183.0" cy="785.0" r="5.3" fill="#1d3354"/><circle cx="174.2" cy="787.5" r="5.3" fill="#1d3354"/><circle cx="166.8" cy="786.2" r="5.3" fill="#1d3354"/><circle cx="218.0" cy="796.2" r="5.3" fill="#1d3354"/><circle cx="223.0" cy="793.8" r="5.3" fill="#1d3354"/><circle cx="226.8" cy="798.8" r="5.3" fill="#1d3354"/><circle cx="219.2" cy="792.5" r="5.3" fill="#1d3354"/><circle cx="215.5" cy="798.8" r="5.3" fill="#1d3354"/><circle cx="230.5" cy="801.2" r="5.3" fill="#1d3354"/><circle cx="240.5" cy="803.8" r="5.3" fill="#1d3354"/><circle cx="238.0" cy="807.5" r="5.3" fill="#1d3354"/><circle cx="231.8" cy="812.5" r="5.3" fill="#1d3354"/><circle cx="228.0" cy="818.8" r="5.3" fill="#1d3354"/><circle cx="225.5" cy="813.8" r="5.3" fill="#1d3354"/><circle cx="186.8" cy="812.5" r="5.3" fill="#1d3354"/><circle cx="189.2" cy="820.0" r="5.3" fill="#1d3354"/><circle cx="184.2" cy="817.5" r="5.3" fill="#1d3354"/><circle cx="181.8" cy="833.8" r="5.3" fill="#1d3354"/><circle cx="186.8" cy="837.5" r="5.3" fill="#1d3354"/></g>
<path d="M133.50 786.35L672.00 994.09" stroke="#111" stroke-width="2.3" fill="none"/>
</g>
<rect x="133.50" y="777.90" width="538.50" height="538.20" fill="none" stroke="#000" stroke-width="1.90"/>
<path d="M133.50 1316.10v12M187.35 1316.10v6M241.20 1316.10v12M295.05 1316.10v6M348.90 1316.10v12M402.75 1316.10v6M456.60 1316.10v12M510.45 1316.10v6M564.30 1316.10v12M618.15 1316.10v6M672.00 1316.10v12M133.50 1316.10h-12M133.50 1262.28h-6M133.50 1208.46h-12M133.50 1154.64h-6M133.50 1100.82h-12M133.50 1047.00h-6M133.50 993.18h-12M133.50 939.36h-6M133.50 885.54h-12M133.50 831.72h-6M133.50 777.90h-12" stroke="#000" stroke-width="1.90" fill="none"/>
<g font-size="26.60"><text x="133.50" y="1353.40" text-anchor="middle">0</text><text x="241.20" y="1353.40" text-anchor="middle">2</text><text x="348.90" y="1353.40" text-anchor="middle">4</text><text x="456.60" y="1353.40" text-anchor="middle">6</text><text x="564.30" y="1353.40" text-anchor="middle">8</text><text x="672.00" y="1353.40" text-anchor="middle">10</text><text x="115.00" y="1325.50" text-anchor="end">−100</text><text x="115.00" y="1217.86" text-anchor="end">−80</text><text x="115.00" y="1110.22" text-anchor="end">−60</text><text x="115.00" y="1002.58" text-anchor="end">−40</text><text x="115.00" y="894.94" text-anchor="end">−20</text><text x="115.00" y="787.30" text-anchor="end">0</text></g>
<text x="402.75" y="1391.60" font-size="27.1" text-anchor="middle">GLOB Near-Surface Air Temperature [°C]</text>
<text transform="translate(37.50 1047.00) rotate(-90)" font-size="27.3" text-anchor="middle">HMA relative Snow Cover Extent [%]</text>
<text x="406.75" y="763.30" font-size="29.60" text-anchor="middle">DJFMA HMA snc vs. GLOBAL tas</text>
<text x="139.80" y="813.30" font-size="28.95" font-weight="bold" letter-spacing="1.50" stroke="#fff" stroke-width="4.5" stroke-linejoin="round" paint-order="stroke">(d)</text>
<text x="656.50" y="813.80" font-size="29.75" text-anchor="end" stroke="#fff" stroke-width="4.5" stroke-linejoin="round" paint-order="stroke">y = -3.86x + -1.57</text>
</g>
<g id="pe">
<path d="M938.20 777.90V1316.10M1045.90 777.90V1316.10M1153.60 777.90V1316.10M1261.30 777.90V1316.10M830.50 1208.46H1369.00M830.50 1100.82H1369.00M830.50 993.18H1369.00M830.50 885.54H1369.00" stroke="#000" stroke-opacity="0.15" stroke-width="1.5" fill="none"/>
<clipPath id="ce"><rect x="830.50" y="777.90" width="538.50" height="538.20"/></clipPath>
<g clip-path="url(#ce)">
<g fill-opacity="0.8"><circle cx="862.8" cy="793.1" r="5.3" fill="#840b22"/><circle cx="882.5" cy="808.8" r="5.3" fill="#840b22"/><circle cx="912.5" cy="830.6" r="5.3" fill="#840b22"/><circle cx="946.0" cy="851.2" r="5.3" fill="#840b22"/><circle cx="982.2" cy="884.4" r="5.3" fill="#840b22"/><circle cx="1022.9" cy="933.4" r="5.3" fill="#840b22"/><circle cx="862.8" cy="853.1" r="5.3" fill="#840b22"/><circle cx="851.2" cy="878.1" r="5.3" fill="#840b22"/><circle cx="868.8" cy="875.0" r="5.3" fill="#840b22"/><circle cx="865.0" cy="895.0" r="5.3" fill="#840b22"/><circle cx="880.0" cy="890.0" r="5.3" fill="#840b22"/><circle cx="885.0" cy="896.9" r="5.3" fill="#840b22"/><circle cx="869.4" cy="920.6" r="5.3" fill="#840b22"/><circle cx="875.6" cy="960.0" r="5.3" fill="#840b22"/><circle cx="876.9" cy="971.9" r="5.3" fill="#840b22"/><circle cx="917.9" cy="976.2" r="5.3" fill="#840b22"/><circle cx="896.9" cy="990.0" r="5.3" fill="#840b22"/><circle cx="936.9" cy="1001.2" r="5.3" fill="#840b22"/><circle cx="909.0" cy="1013.1" r="5.3" fill="#840b22"/><circle cx="948.1" cy="1019.4" r="5.3" fill="#840b22"/><circle cx="886.9" cy="1029.8" r="5.3" fill="#840b22"/><circle cx="992.9" cy="1050.0" r="5.3" fill="#840b22"/><circle cx="896.9" cy="1058.1" r="5.3" fill="#840b22"/><circle cx="972.2" cy="1062.2" r="5.3" fill="#840b22"/><circle cx="982.8" cy="1061.9" r="5.3" fill="#840b22"/><circle cx="880.6" cy="1071.9" r="5.3" fill="#840b22"/><circle cx="930.0" cy="1078.8" r="5.3" fill="#840b22"/><circle cx="943.5" cy="1089.0" r="5.3" fill="#840b22"/><circle cx="955.9" cy="1087.1" r="5.3" fill="#840b22"/><circle cx="1034.0" cy="1090.0" r="5.3" fill="#840b22"/><circle cx="1019.0" cy="1097.8" r="5.3" fill="#840b22"/><circle cx="1011.5" cy="1100.6" r="5.3" fill="#840b22"/><circle cx="906.9" cy="1096.2" r="5.3" fill="#840b22"/><circle cx="930.0" cy="1102.5" r="5.3" fill="#840b22"/><circle cx="940.6" cy="1111.2" r="5.3" fill="#840b22"/><circle cx="1068.1" cy="972.8" r="5.3" fill="#840b22"/><circle cx="925.0" cy="1127.2" r="5.3" fill="#840b22"/><circle cx="1056.0" cy="1137.5" r="5.3" fill="#840b22"/><circle cx="1058.5" cy="1143.1" r="5.3" fill="#840b22"/><circle cx="985.6" cy="1141.2" r="5.3" fill="#840b22"/><circle cx="917.5" cy="1150.0" r="5.3" fill="#840b22"/><circle cx="947.1" cy="1158.1" r="5.3" fill="#840b22"/><circle cx="978.1" cy="1159.0" r="5.3" fill="#840b22"/><circle cx="982.5" cy="1165.0" r="5.3" fill="#840b22"/><circle cx="953.8" cy="1167.5" r="5.3" fill="#840b22"/><circle cx="1013.1" cy="1194.8" r="5.3" fill="#840b22"/><circle cx="1025.0" cy="1201.0" r="5.3" fill="#840b22"/><circle cx="975.2" cy="1201.9" r="5.3" fill="#840b22"/><circle cx="939.6" cy="1201.9" r="5.3" fill="#840b22"/><circle cx="1018.8" cy="1207.2" r="5.3" fill="#840b22"/><circle cx="992.5" cy="1210.4" r="5.3" fill="#840b22"/><circle cx="974.8" cy="1216.9" r="5.3" fill="#840b22"/><circle cx="1068.1" cy="1226.9" r="5.3" fill="#840b22"/><circle cx="963.5" cy="1239.8" r="5.3" fill="#840b22"/><circle cx="1063.5" cy="1248.1" r="5.3" fill="#840b22"/><circle cx="1112.9" cy="1262.1" r="5.3" fill="#840b22"/><circle cx="986.0" cy="1269.8" r="5.3" fill="#840b22"/><circle cx="1107.8" cy="1274.4" r="5.3" fill="#840b22"/><circle cx="860.0" cy="790.6" r="5.3" fill="#f21111"/><circle cx="881.2" cy="809.4" r="5.3" fill="#f21111"/><circle cx="856.2" cy="826.9" r="5.3" fill="#f21111"/><circle cx="907.5" cy="826.9" r="5.3" fill="#f21111"/><circle cx="929.8" cy="837.1" r="5.3" fill="#f21111"/><circle cx="950.4" cy="856.2" r="5.3" fill="#f21111"/><circle cx="979.4" cy="887.5" r="5.3" fill="#f21111"/><circle cx="1011.9" cy="930.6" r="5.3" fill="#f21111"/><circle cx="848.8" cy="851.9" r="5.3" fill="#f21111"/><circle cx="856.9" cy="856.2" r="5.3" fill="#f21111"/><circle cx="861.2" cy="873.8" r="5.3" fill="#f21111"/><circle cx="855.0" cy="891.9" r="5.3" fill="#f21111"/><circle cx="872.5" cy="892.5" r="5.3" fill="#f21111"/><circle cx="861.2" cy="919.4" r="5.3" fill="#f21111"/><circle cx="907.5" cy="931.9" r="5.3" fill="#f21111"/><circle cx="891.9" cy="932.5" r="5.3" fill="#f21111"/><circle cx="882.5" cy="938.8" r="5.3" fill="#f21111"/><circle cx="909.4" cy="941.9" r="5.3" fill="#f21111"/><circle cx="879.4" cy="954.4" r="5.3" fill="#f21111"/><circle cx="929.4" cy="956.0" r="5.3" fill="#f21111"/><circle cx="868.1" cy="964.4" r="5.3" fill="#f21111"/><circle cx="900.0" cy="966.2" r="5.3" fill="#f21111"/><circle cx="876.2" cy="966.9" r="5.3" fill="#f21111"/><circle cx="915.0" cy="970.0" r="5.3" fill="#f21111"/><circle cx="932.1" cy="975.0" r="5.3" fill="#f21111"/><circle cx="899.4" cy="989.4" r="5.3" fill="#f21111"/><circle cx="956.0" cy="1004.4" r="5.3" fill="#f21111"/><circle cx="893.8" cy="1012.5" r="5.3" fill="#f21111"/><circle cx="961.6" cy="1014.0" r="5.3" fill="#f21111"/><circle cx="884.6" cy="1022.5" r="5.3" fill="#f21111"/><circle cx="916.9" cy="1021.9" r="5.3" fill="#f21111"/><circle cx="920.0" cy="1036.2" r="5.3" fill="#f21111"/><circle cx="906.5" cy="1038.8" r="5.3" fill="#f21111"/><circle cx="878.1" cy="1045.6" r="5.3" fill="#f21111"/><circle cx="971.2" cy="1045.0" r="5.3" fill="#f21111"/><circle cx="982.8" cy="1051.6" r="5.3" fill="#f21111"/><circle cx="992.2" cy="1065.6" r="5.3" fill="#f21111"/><circle cx="906.2" cy="1069.4" r="5.3" fill="#f21111"/><circle cx="936.2" cy="1076.2" r="5.3" fill="#f21111"/><circle cx="936.2" cy="1085.0" r="5.3" fill="#f21111"/><circle cx="1003.8" cy="1085.0" r="5.3" fill="#f21111"/><circle cx="1010.6" cy="1093.1" r="5.3" fill="#f21111"/><circle cx="901.2" cy="1105.0" r="5.3" fill="#f21111"/><circle cx="923.1" cy="1108.8" r="5.3" fill="#f21111"/><circle cx="938.1" cy="1110.6" r="5.3" fill="#f21111"/><circle cx="904.8" cy="1113.8" r="5.3" fill="#f21111"/><circle cx="954.4" cy="1119.4" r="5.3" fill="#f21111"/><circle cx="965.0" cy="1124.4" r="5.3" fill="#f21111"/><circle cx="916.2" cy="1121.9" r="5.3" fill="#f21111"/><circle cx="973.1" cy="1146.0" r="5.3" fill="#f21111"/><circle cx="941.0" cy="1146.0" r="5.3" fill="#f21111"/><circle cx="931.9" cy="1146.9" r="5.3" fill="#f21111"/><circle cx="932.2" cy="1155.0" r="5.3" fill="#f21111"/><circle cx="956.2" cy="1168.8" r="5.3" fill="#f21111"/><circle cx="991.2" cy="1167.5" r="5.3" fill="#f21111"/><circle cx="960.2" cy="1188.5" r="5.3" fill="#f21111"/><circle cx="976.0" cy="1198.1" r="5.3" fill="#f21111"/><circle cx="952.9" cy="1210.0" r="5.3" fill="#f21111"/><circle cx="1021.9" cy="1215.6" r="5.3" fill="#f21111"/><circle cx="990.6" cy="1225.0" r="5.3" fill="#f21111"/><circle cx="1022.9" cy="1241.9" r="5.3" fill="#f21111"/><circle cx="1057.8" cy="1244.0" r="5.3" fill="#f21111"/><circle cx="1056.2" cy="1255.6" r="5.3" fill="#f21111"/><circle cx="863.1" cy="799.4" r="5.3" fill="#eadd3d"/><circle cx="879.8" cy="820.6" r="5.3" fill="#eadd3d"/><circle cx="859.4" cy="833.1" r="5.3" fill="#eadd3d"/><circle cx="915.4" cy="834.0" r="5.3" fill="#eadd3d"/><circle cx="930.0" cy="849.0" r="5.3" fill="#eadd3d"/><circle cx="945.0" cy="867.2" r="5.3" fill="#eadd3d"/><circle cx="959.0" cy="881.2" r="5.3" fill="#eadd3d"/><circle cx="859.4" cy="860.0" r="5.3" fill="#eadd3d"/><circle cx="873.1" cy="864.4" r="5.3" fill="#eadd3d"/><circle cx="863.1" cy="883.1" r="5.3" fill="#eadd3d"/><circle cx="887.5" cy="888.1" r="5.3" fill="#eadd3d"/><circle cx="858.1" cy="890.6" r="5.3" fill="#eadd3d"/><circle cx="850.6" cy="913.8" r="5.3" fill="#eadd3d"/><circle cx="875.6" cy="916.9" r="5.3" fill="#eadd3d"/><circle cx="902.5" cy="920.0" r="5.3" fill="#eadd3d"/><circle cx="883.8" cy="928.8" r="5.3" fill="#eadd3d"/><circle cx="874.4" cy="947.5" r="5.3" fill="#eadd3d"/><circle cx="906.9" cy="943.1" r="5.3" fill="#eadd3d"/><circle cx="905.0" cy="961.9" r="5.3" fill="#eadd3d"/><circle cx="868.8" cy="978.1" r="5.3" fill="#eadd3d"/><circle cx="888.8" cy="976.9" r="5.3" fill="#eadd3d"/><circle cx="924.0" cy="982.8" r="5.3" fill="#eadd3d"/><circle cx="864.4" cy="990.0" r="5.3" fill="#eadd3d"/><circle cx="930.6" cy="994.4" r="5.3" fill="#eadd3d"/><circle cx="935.6" cy="995.6" r="5.3" fill="#eadd3d"/><circle cx="948.8" cy="999.4" r="5.3" fill="#eadd3d"/><circle cx="940.6" cy="1006.9" r="5.3" fill="#eadd3d"/><circle cx="881.2" cy="1007.5" r="5.3" fill="#eadd3d"/><circle cx="892.9" cy="1008.1" r="5.3" fill="#eadd3d"/><circle cx="948.1" cy="1012.5" r="5.3" fill="#eadd3d"/><circle cx="908.8" cy="1018.1" r="5.3" fill="#eadd3d"/><circle cx="899.4" cy="1022.5" r="5.3" fill="#eadd3d"/><circle cx="958.1" cy="1024.6" r="5.3" fill="#eadd3d"/><circle cx="928.8" cy="1039.4" r="5.3" fill="#eadd3d"/><circle cx="874.4" cy="1043.1" r="5.3" fill="#eadd3d"/><circle cx="893.1" cy="1047.5" r="5.3" fill="#eadd3d"/><circle cx="937.5" cy="1045.6" r="5.3" fill="#eadd3d"/><circle cx="973.5" cy="1042.8" r="5.3" fill="#eadd3d"/><circle cx="884.0" cy="1053.5" r="5.3" fill="#eadd3d"/><circle cx="899.4" cy="1051.2" r="5.3" fill="#eadd3d"/><circle cx="895.0" cy="1065.0" r="5.3" fill="#eadd3d"/><circle cx="903.8" cy="1075.0" r="5.3" fill="#eadd3d"/><circle cx="921.2" cy="1071.9" r="5.3" fill="#eadd3d"/><circle cx="914.4" cy="1079.4" r="5.3" fill="#eadd3d"/><circle cx="921.9" cy="1082.5" r="5.3" fill="#eadd3d"/><circle cx="910.0" cy="1089.4" r="5.3" fill="#eadd3d"/><circle cx="895.0" cy="1101.9" r="5.3" fill="#eadd3d"/><circle cx="906.2" cy="1100.6" r="5.3" fill="#eadd3d"/><circle cx="943.8" cy="1103.8" r="5.3" fill="#eadd3d"/><circle cx="961.2" cy="1120.0" r="5.3" fill="#eadd3d"/><circle cx="911.9" cy="1125.6" r="5.3" fill="#eadd3d"/><circle cx="909.4" cy="1128.8" r="5.3" fill="#eadd3d"/><circle cx="954.4" cy="1128.5" r="5.3" fill="#eadd3d"/><circle cx="934.0" cy="1133.8" r="5.3" fill="#eadd3d"/><circle cx="967.9" cy="1134.4" r="5.3" fill="#eadd3d"/><circle cx="978.1" cy="1142.5" r="5.3" fill="#eadd3d"/><circle cx="979.4" cy="1148.8" r="5.3" fill="#eadd3d"/><circle cx="917.9" cy="1148.1" r="5.3" fill="#eadd3d"/><circle cx="996.0" cy="1178.8" r="5.3" fill="#eadd3d"/><circle cx="860.6" cy="794.4" r="5.3" fill="#1d3354"/><circle cx="873.1" cy="805.0" r="5.3" fill="#1d3354"/><circle cx="885.6" cy="813.8" r="5.3" fill="#1d3354"/><circle cx="893.5" cy="824.0" r="5.3" fill="#1d3354"/><circle cx="896.2" cy="828.8" r="5.3" fill="#1d3354"/><circle cx="898.8" cy="831.2" r="5.3" fill="#1d3354"/><circle cx="859.8" cy="850.0" r="5.3" fill="#1d3354"/><circle cx="860.0" cy="863.1" r="5.3" fill="#1d3354"/><circle cx="863.8" cy="865.0" r="5.3" fill="#1d3354"/><circle cx="871.9" cy="866.5" r="5.3" fill="#1d3354"/><circle cx="869.4" cy="876.2" r="5.3" fill="#1d3354"/><circle cx="876.9" cy="880.6" r="5.3" fill="#1d3354"/><circle cx="872.5" cy="883.8" r="5.3" fill="#1d3354"/><circle cx="865.0" cy="885.6" r="5.3" fill="#1d3354"/><circle cx="876.2" cy="895.0" r="5.3" fill="#1d3354"/><circle cx="881.2" cy="896.2" r="5.3" fill="#1d3354"/><circle cx="890.0" cy="900.6" r="5.3" fill="#1d3354"/><circle cx="850.6" cy="910.0" r="5.3" fill="#1d3354"/><circle cx="858.5" cy="911.0" r="5.3" fill="#1d3354"/><circle cx="879.4" cy="911.2" r="5.3" fill="#1d3354"/><circle cx="885.6" cy="908.8" r="5.3" fill="#1d3354"/><circle cx="895.0" cy="916.2" r="5.3" fill="#1d3354"/><circle cx="891.2" cy="921.9" r="5.3" fill="#1d3354"/><circle cx="878.1" cy="931.2" r="5.3" fill="#1d3354"/><circle cx="885.0" cy="931.9" r="5.3" fill="#1d3354"/><circle cx="898.8" cy="933.8" r="5.3" fill="#1d3354"/><circle cx="903.8" cy="937.5" r="5.3" fill="#1d3354"/><circle cx="862.5" cy="940.0" r="5.3" fill="#1d3354"/><circle cx="875.6" cy="940.6" r="5.3" fill="#1d3354"/><circle cx="893.1" cy="946.9" r="5.3" fill="#1d3354"/><circle cx="869.4" cy="954.4" r="5.3" fill="#1d3354"/><circle cx="911.9" cy="953.8" r="5.3" fill="#1d3354"/><circle cx="892.5" cy="956.9" r="5.3" fill="#1d3354"/><circle cx="876.2" cy="960.6" r="5.3" fill="#1d3354"/><circle cx="885.6" cy="962.5" r="5.3" fill="#1d3354"/><circle cx="917.5" cy="958.8" r="5.3" fill="#1d3354"/><circle cx="916.2" cy="964.4" r="5.3" fill="#1d3354"/><circle cx="921.9" cy="968.1" r="5.3" fill="#1d3354"/><circle cx="886.9" cy="966.2" r="5.3" fill="#1d3354"/><circle cx="891.2" cy="968.1" r="5.3" fill="#1d3354"/><circle cx="880.6" cy="973.1" r="5.3" fill="#1d3354"/><circle cx="917.9" cy="988.1" r="5.3" fill="#1d3354"/><circle cx="868.5" cy="988.5" r="5.3" fill="#1d3354"/><circle cx="894.8" cy="989.4" r="5.3" fill="#1d3354"/><circle cx="874.8" cy="1001.9" r="5.3" fill="#1d3354"/><circle cx="876.2" cy="1006.2" r="5.3" fill="#1d3354"/><circle cx="873.4" cy="1017.5" r="5.3" fill="#1d3354"/><circle cx="876.9" cy="1028.1" r="5.3" fill="#1d3354"/><circle cx="910.0" cy="1029.0" r="5.3" fill="#1d3354"/><circle cx="916.9" cy="1037.5" r="5.3" fill="#1d3354"/><circle cx="883.1" cy="1038.8" r="5.3" fill="#1d3354"/><circle cx="883.8" cy="1042.5" r="5.3" fill="#1d3354"/><circle cx="920.0" cy="1043.8" r="5.3" fill="#1d3354"/><circle cx="906.2" cy="1046.9" r="5.3" fill="#1d3354"/><circle cx="927.1" cy="1058.8" r="5.3" fill="#1d3354"/><circle cx="880.9" cy="1075.0" r="5.3" fill="#1d3354"/><circle cx="933.8" cy="1081.9" r="5.3" fill="#1d3354"/><circle cx="881.5" cy="1086.2" r="5.3" fill="#1d3354"/><circle cx="912.1" cy="1091.6" r="5.3" fill="#1d3354"/><circle cx="897.5" cy="830.0" r="5.3" fill="#1d3354"/><circle cx="861.9" cy="863.8" r="5.3" fill="#1d3354"/><circle cx="867.5" cy="877.5" r="5.3" fill="#1d3354"/><circle cx="885.0" cy="910.0" r="5.3" fill="#1d3354"/><circle cx="891.2" cy="920.6" r="5.3" fill="#1d3354"/><circle cx="892.5" cy="923.8" r="5.3" fill="#1d3354"/><circle cx="900.0" cy="935.0" r="5.3" fill="#1d3354"/><circle cx="902.5" cy="936.9" r="5.3" fill="#1d3354"/><circle cx="885.0" cy="931.2" r="5.3" fill="#1d3354"/><circle cx="879.4" cy="896.2" r="5.3" fill="#1d3354"/><circle cx="868.8" cy="882.5" r="5.3" fill="#1d3354"/><circle cx="873.8" cy="881.2" r="5.3" fill="#1d3354"/><circle cx="886.2" cy="964.4" r="5.3" fill="#1d3354"/><circle cx="888.8" cy="966.9" r="5.3" fill="#1d3354"/><circle cx="918.8" cy="965.0" r="5.3" fill="#1d3354"/><circle cx="920.6" cy="966.9" r="5.3" fill="#1d3354"/><circle cx="876.2" cy="1027.5" r="5.3" fill="#1d3354"/><circle cx="883.5" cy="1040.6" r="5.3" fill="#1d3354"/><circle cx="933.5" cy="1081.2" r="5.3" fill="#1d3354"/><circle cx="875.6" cy="1004.4" r="5.3" fill="#1d3354"/></g>
<path d="M830.50 866.00L1369.00 1703.98" stroke="#111" stroke-width="2.3" fill="none"/>
</g>
<rect x="830.50" y="777.90" width="538.50" height="538.20" fill="none" stroke="#000" stroke-width="1.90"/>
<path d="M830.50 1316.10v12M884.35 1316.10v6M938.20 1316.10v12M992.05 1316.10v6M1045.90 1316.10v12M1099.75 1316.10v6M1153.60 1316.10v12M1207.45 1316.10v6M1261.30 1316.10v12M1315.15 1316.10v6M1369.00 1316.10v12M830.50 1316.10h-12M830.50 1262.28h-6M830.50 1208.46h-12M830.50 1154.64h-6M830.50 1100.82h-12M830.50 1047.00h-6M830.50 993.18h-12M830.50 939.36h-6M830.50 885.54h-12M830.50 831.72h-6M830.50 777.90h-12" stroke="#000" stroke-width="1.90" fill="none"/>
<g font-size="26.60"><text x="830.50" y="1353.40" text-anchor="middle">0</text><text x="938.20" y="1353.40" text-anchor="middle">2</text><text x="1045.90" y="1353.40" text-anchor="middle">4</text><text x="1153.60" y="1353.40" text-anchor="middle">6</text><text x="1261.30" y="1353.40" text-anchor="middle">8</text><text x="1369.00" y="1353.40" text-anchor="middle">10</text><text x="812.00" y="1325.50" text-anchor="end">−100</text><text x="812.00" y="1217.86" text-anchor="end">−80</text><text x="812.00" y="1110.22" text-anchor="end">−60</text><text x="812.00" y="1002.58" text-anchor="end">−40</text><text x="812.00" y="894.94" text-anchor="end">−20</text><text x="812.00" y="787.30" text-anchor="end">0</text></g>
<text x="1099.75" y="1391.60" font-size="27.1" text-anchor="middle">GLOB Near-Surface Air Temperature [°C]</text>
<text transform="translate(734.50 1047.00) rotate(-90)" font-size="27.3" text-anchor="middle">HMA relative Snow Cover Extent [%]</text>
<text x="1103.75" y="763.30" font-size="29.60" text-anchor="middle">JJAS HMA snc vs. GLOBAL tas</text>
<text x="833.90" y="815.70" font-size="28.95" font-weight="bold" letter-spacing="1.50" stroke="#fff" stroke-width="4.5" stroke-linejoin="round" paint-order="stroke">(e)</text>
<text x="1353.50" y="813.80" font-size="29.75" text-anchor="end" stroke="#fff" stroke-width="4.5" stroke-linejoin="round" paint-order="stroke">y = -15.57x + -16.37</text>
</g>
<g id="pf">
<path d="M1604.50 777.90V1316.10M1712.20 777.90V1316.10M1819.90 777.90V1316.10M1927.60 777.90V1316.10M1496.80 1208.46H2035.30M1496.80 1100.82H2035.30M1496.80 993.18H2035.30M1496.80 885.54H2035.30" stroke="#000" stroke-opacity="0.15" stroke-width="1.5" fill="none"/>
<clipPath id="cf"><rect x="1496.80" y="777.90" width="538.50" height="538.20"/></clipPath>
<g clip-path="url(#cf)">
<g fill-opacity="0.8"><circle cx="1739.0" cy="879.4" r="5.3" fill="#840b22"/><circle cx="1694.0" cy="960.0" r="5.3" fill="#840b22"/><circle cx="1701.2" cy="1001.9" r="5.3" fill="#840b22"/><circle cx="1652.2" cy="1021.6" r="5.3" fill="#840b22"/><circle cx="1734.0" cy="1046.5" r="5.3" fill="#840b22"/><circle cx="1721.9" cy="1055.0" r="5.3" fill="#840b22"/><circle cx="1658.5" cy="1059.4" r="5.3" fill="#840b22"/><circle cx="1728.1" cy="1062.2" r="5.3" fill="#840b22"/><circle cx="1612.9" cy="1065.4" r="5.3" fill="#840b22"/><circle cx="1782.2" cy="1077.8" r="5.3" fill="#840b22"/><circle cx="1678.5" cy="1089.1" r="5.3" fill="#840b22"/><circle cx="1687.5" cy="1102.1" r="5.3" fill="#840b22"/><circle cx="1678.1" cy="1103.8" r="5.3" fill="#840b22"/><circle cx="1738.4" cy="1106.2" r="5.3" fill="#840b22"/><circle cx="1690.0" cy="1116.2" r="5.3" fill="#840b22"/><circle cx="1695.2" cy="1126.9" r="5.3" fill="#840b22"/><circle cx="1622.5" cy="1127.9" r="5.3" fill="#840b22"/><circle cx="1651.2" cy="1138.1" r="5.3" fill="#840b22"/><circle cx="1660.9" cy="1138.8" r="5.3" fill="#840b22"/><circle cx="1637.1" cy="1143.1" r="5.3" fill="#840b22"/><circle cx="1636.2" cy="1148.8" r="5.3" fill="#840b22"/><circle cx="1651.2" cy="1145.6" r="5.3" fill="#840b22"/><circle cx="1616.2" cy="1174.4" r="5.3" fill="#840b22"/><circle cx="1622.5" cy="1175.6" r="5.3" fill="#840b22"/><circle cx="1653.1" cy="1177.5" r="5.3" fill="#840b22"/><circle cx="1648.1" cy="1183.1" r="5.3" fill="#840b22"/><circle cx="1612.5" cy="1191.9" r="5.3" fill="#840b22"/><circle cx="1662.5" cy="1217.9" r="5.3" fill="#840b22"/><circle cx="1644.3" cy="1236.9" r="5.3" fill="#840b22"/><circle cx="1613.4" cy="1242.4" r="5.3" fill="#840b22"/><circle cx="1622.5" cy="1267.4" r="5.3" fill="#840b22"/><circle cx="1566.2" cy="1169.6" r="5.3" fill="#840b22"/><circle cx="1578.3" cy="1167.1" r="5.3" fill="#840b22"/><circle cx="1590.4" cy="1172.6" r="5.3" fill="#840b22"/><circle cx="1600.9" cy="1183.4" r="5.3" fill="#840b22"/><circle cx="1546.6" cy="1209.3" r="5.3" fill="#840b22"/><circle cx="1589.6" cy="1226.1" r="5.3" fill="#840b22"/><circle cx="1526.1" cy="1262.0" r="5.3" fill="#840b22"/><circle cx="1578.7" cy="1259.5" r="5.3" fill="#840b22"/><circle cx="1578.7" cy="1274.2" r="5.3" fill="#840b22"/><circle cx="1597.1" cy="1296.8" r="5.3" fill="#840b22"/><circle cx="1574.1" cy="1303.5" r="5.3" fill="#840b22"/><circle cx="1732.5" cy="874.4" r="5.3" fill="#f21111"/><circle cx="1698.8" cy="971.2" r="5.3" fill="#f21111"/><circle cx="1666.2" cy="1016.6" r="5.3" fill="#f21111"/><circle cx="1634.8" cy="1056.5" r="5.3" fill="#f21111"/><circle cx="1660.2" cy="1091.0" r="5.3" fill="#f21111"/><circle cx="1679.0" cy="1115.0" r="5.3" fill="#f21111"/><circle cx="1629.1" cy="1128.8" r="5.3" fill="#f21111"/><circle cx="1670.2" cy="1129.8" r="5.3" fill="#f21111"/><circle cx="1679.4" cy="1136.9" r="5.3" fill="#f21111"/><circle cx="1729.1" cy="1153.5" r="5.3" fill="#f21111"/><circle cx="1650.9" cy="1156.0" r="5.3" fill="#f21111"/><circle cx="1637.5" cy="1164.4" r="5.3" fill="#f21111"/><circle cx="1692.5" cy="1179.8" r="5.3" fill="#f21111"/><circle cx="1625.0" cy="1183.8" r="5.3" fill="#f21111"/><circle cx="1622.5" cy="1187.5" r="5.3" fill="#f21111"/><circle cx="1647.9" cy="1194.6" r="5.3" fill="#f21111"/><circle cx="1635.2" cy="1196.6" r="5.3" fill="#f21111"/><circle cx="1608.8" cy="1200.0" r="5.3" fill="#f21111"/><circle cx="1662.5" cy="1202.5" r="5.3" fill="#f21111"/><circle cx="1616.2" cy="1220.6" r="5.3" fill="#f21111"/><circle cx="1622.5" cy="1223.8" r="5.3" fill="#f21111"/><circle cx="1606.9" cy="1217.5" r="5.3" fill="#f21111"/><circle cx="1604.8" cy="1113.5" r="5.3" fill="#f21111"/><circle cx="1645.2" cy="1241.5" r="5.3" fill="#f21111"/><circle cx="1619.7" cy="1249.0" r="5.3" fill="#f21111"/><circle cx="1625.5" cy="1254.1" r="5.3" fill="#f21111"/><circle cx="1604.2" cy="1236.9" r="5.3" fill="#f21111"/><circle cx="1598.0" cy="1165.5" r="5.3" fill="#f21111"/><circle cx="1577.1" cy="1178.4" r="5.3" fill="#f21111"/><circle cx="1573.7" cy="1206.4" r="5.3" fill="#f21111"/><circle cx="1547.8" cy="1211.8" r="5.3" fill="#f21111"/><circle cx="1580.4" cy="1213.5" r="5.3" fill="#f21111"/><circle cx="1597.1" cy="1216.0" r="5.3" fill="#f21111"/><circle cx="1587.9" cy="1232.7" r="5.3" fill="#f21111"/><circle cx="1582.1" cy="1247.8" r="5.3" fill="#f21111"/><circle cx="1535.3" cy="1249.0" r="5.3" fill="#f21111"/><circle cx="1557.8" cy="1246.9" r="5.3" fill="#f21111"/><circle cx="1522.7" cy="1262.0" r="5.3" fill="#f21111"/><circle cx="1598.0" cy="1257.4" r="5.3" fill="#f21111"/><circle cx="1576.2" cy="1267.0" r="5.3" fill="#f21111"/><circle cx="1519.4" cy="1285.1" r="5.3" fill="#f21111"/><circle cx="1540.3" cy="1283.4" r="5.3" fill="#f21111"/><circle cx="1547.8" cy="1284.3" r="5.3" fill="#f21111"/><circle cx="1554.5" cy="1272.1" r="5.3" fill="#f21111"/><circle cx="1523.6" cy="1293.5" r="5.3" fill="#f21111"/><circle cx="1551.2" cy="1289.3" r="5.3" fill="#f21111"/><circle cx="1586.3" cy="1297.6" r="5.3" fill="#f21111"/><circle cx="1605.9" cy="1298.5" r="5.3" fill="#f21111"/><circle cx="1531.9" cy="1312.7" r="5.3" fill="#f21111"/><circle cx="1599.0" cy="1227.8" r="5.3" fill="#f21111"/><circle cx="1545.1" cy="1282.2" r="5.3" fill="#f21111"/><circle cx="1548.7" cy="1286.9" r="5.3" fill="#f21111"/><circle cx="1531.1" cy="1295.7" r="5.3" fill="#f21111"/><circle cx="1577.9" cy="1268.2" r="5.3" fill="#f21111"/><circle cx="1562.1" cy="1268.8" r="5.3" fill="#f21111"/><circle cx="1581.4" cy="1248.3" r="5.3" fill="#f21111"/><circle cx="1559.2" cy="1245.9" r="5.3" fill="#f21111"/><circle cx="1653.8" cy="1011.5" r="5.3" fill="#eadd3d"/><circle cx="1643.8" cy="1050.2" r="5.3" fill="#eadd3d"/><circle cx="1630.0" cy="1067.1" r="5.3" fill="#eadd3d"/><circle cx="1607.9" cy="1085.2" r="5.3" fill="#eadd3d"/><circle cx="1615.4" cy="1145.0" r="5.3" fill="#eadd3d"/><circle cx="1613.8" cy="1183.1" r="5.3" fill="#eadd3d"/><circle cx="1649.6" cy="1184.4" r="5.3" fill="#eadd3d"/><circle cx="1666.6" cy="1185.4" r="5.3" fill="#eadd3d"/><circle cx="1631.2" cy="1188.1" r="5.3" fill="#eadd3d"/><circle cx="1626.2" cy="1189.4" r="5.3" fill="#eadd3d"/><circle cx="1640.9" cy="1190.0" r="5.3" fill="#eadd3d"/><circle cx="1625.0" cy="1195.6" r="5.3" fill="#eadd3d"/><circle cx="1614.4" cy="1210.6" r="5.3" fill="#eadd3d"/><circle cx="1607.5" cy="1213.1" r="5.3" fill="#eadd3d"/><circle cx="1596.3" cy="1173.4" r="5.3" fill="#eadd3d"/><circle cx="1580.8" cy="1192.2" r="5.3" fill="#eadd3d"/><circle cx="1567.5" cy="1196.8" r="5.3" fill="#eadd3d"/><circle cx="1562.9" cy="1221.0" r="5.3" fill="#eadd3d"/><circle cx="1574.6" cy="1221.0" r="5.3" fill="#eadd3d"/><circle cx="1592.1" cy="1204.3" r="5.3" fill="#eadd3d"/><circle cx="1601.3" cy="1203.5" r="5.3" fill="#eadd3d"/><circle cx="1600.5" cy="1208.5" r="5.3" fill="#eadd3d"/><circle cx="1599.6" cy="1227.3" r="5.3" fill="#eadd3d"/><circle cx="1538.6" cy="1241.1" r="5.3" fill="#eadd3d"/><circle cx="1577.1" cy="1240.3" r="5.3" fill="#eadd3d"/><circle cx="1591.3" cy="1241.1" r="5.3" fill="#eadd3d"/><circle cx="1524.8" cy="1249.5" r="5.3" fill="#eadd3d"/><circle cx="1562.9" cy="1252.8" r="5.3" fill="#eadd3d"/><circle cx="1584.6" cy="1262.8" r="5.3" fill="#eadd3d"/><circle cx="1590.4" cy="1261.2" r="5.3" fill="#eadd3d"/><circle cx="1571.2" cy="1263.7" r="5.3" fill="#eadd3d"/><circle cx="1569.1" cy="1273.8" r="5.3" fill="#eadd3d"/><circle cx="1583.3" cy="1279.7" r="5.3" fill="#eadd3d"/><circle cx="1522.7" cy="1276.7" r="5.3" fill="#eadd3d"/><circle cx="1529.4" cy="1270.1" r="5.3" fill="#eadd3d"/><circle cx="1535.3" cy="1271.7" r="5.3" fill="#eadd3d"/><circle cx="1544.5" cy="1290.1" r="5.3" fill="#eadd3d"/><circle cx="1532.8" cy="1294.3" r="5.3" fill="#eadd3d"/><circle cx="1567.0" cy="1295.1" r="5.3" fill="#eadd3d"/><circle cx="1578.3" cy="1295.5" r="5.3" fill="#eadd3d"/><circle cx="1567.0" cy="1301.0" r="5.3" fill="#eadd3d"/><circle cx="1555.3" cy="1312.3" r="5.3" fill="#eadd3d"/><circle cx="1519.4" cy="1315.2" r="5.3" fill="#eadd3d"/><circle cx="1568.5" cy="1226.1" r="5.3" fill="#eadd3d"/><circle cx="1575.6" cy="1219.0" r="5.3" fill="#eadd3d"/><circle cx="1577.9" cy="1241.3" r="5.3" fill="#eadd3d"/><circle cx="1524.1" cy="1277.5" r="5.3" fill="#eadd3d"/><circle cx="1531.1" cy="1270.5" r="5.3" fill="#eadd3d"/><circle cx="1527.6" cy="1305.6" r="5.3" fill="#eadd3d"/><circle cx="1537.0" cy="1305.0" r="5.3" fill="#eadd3d"/><circle cx="1546.3" cy="1308.0" r="5.3" fill="#eadd3d"/><circle cx="1532.3" cy="1294.5" r="5.3" fill="#eadd3d"/><circle cx="1573.2" cy="1240.1" r="5.3" fill="#eadd3d"/><circle cx="1561.5" cy="1253.0" r="5.3" fill="#eadd3d"/><circle cx="1590.4" cy="1057.0" r="5.3" fill="#1d3354"/><circle cx="1591.9" cy="1071.6" r="5.3" fill="#1d3354"/><circle cx="1589.9" cy="1096.2" r="5.3" fill="#1d3354"/><circle cx="1564.1" cy="1155.8" r="5.3" fill="#1d3354"/><circle cx="1605.3" cy="1158.3" r="5.3" fill="#1d3354"/><circle cx="1586.7" cy="1168.0" r="5.3" fill="#1d3354"/><circle cx="1579.6" cy="1172.6" r="5.3" fill="#1d3354"/><circle cx="1603.0" cy="1171.7" r="5.3" fill="#1d3354"/><circle cx="1598.0" cy="1188.9" r="5.3" fill="#1d3354"/><circle cx="1565.4" cy="1193.9" r="5.3" fill="#1d3354"/><circle cx="1559.9" cy="1195.1" r="5.3" fill="#1d3354"/><circle cx="1559.9" cy="1201.0" r="5.3" fill="#1d3354"/><circle cx="1587.1" cy="1199.7" r="5.3" fill="#1d3354"/><circle cx="1584.6" cy="1203.9" r="5.3" fill="#1d3354"/><circle cx="1557.4" cy="1214.4" r="5.3" fill="#1d3354"/><circle cx="1567.5" cy="1215.2" r="5.3" fill="#1d3354"/><circle cx="1545.3" cy="1217.7" r="5.3" fill="#1d3354"/><circle cx="1552.0" cy="1223.5" r="5.3" fill="#1d3354"/><circle cx="1588.8" cy="1214.4" r="5.3" fill="#1d3354"/><circle cx="1567.9" cy="1226.9" r="5.3" fill="#1d3354"/><circle cx="1579.6" cy="1229.4" r="5.3" fill="#1d3354"/><circle cx="1540.3" cy="1231.5" r="5.3" fill="#1d3354"/><circle cx="1531.9" cy="1236.1" r="5.3" fill="#1d3354"/><circle cx="1549.5" cy="1234.4" r="5.3" fill="#1d3354"/><circle cx="1563.7" cy="1235.2" r="5.3" fill="#1d3354"/><circle cx="1546.1" cy="1244.4" r="5.3" fill="#1d3354"/><circle cx="1554.5" cy="1240.3" r="5.3" fill="#1d3354"/><circle cx="1556.2" cy="1246.1" r="5.3" fill="#1d3354"/><circle cx="1525.3" cy="1256.6" r="5.3" fill="#1d3354"/><circle cx="1537.8" cy="1257.8" r="5.3" fill="#1d3354"/><circle cx="1546.1" cy="1252.0" r="5.3" fill="#1d3354"/><circle cx="1543.6" cy="1262.8" r="5.3" fill="#1d3354"/><circle cx="1551.2" cy="1257.0" r="5.3" fill="#1d3354"/><circle cx="1569.5" cy="1252.0" r="5.3" fill="#1d3354"/><circle cx="1566.2" cy="1257.8" r="5.3" fill="#1d3354"/><circle cx="1562.9" cy="1262.8" r="5.3" fill="#1d3354"/><circle cx="1531.1" cy="1275.9" r="5.3" fill="#1d3354"/><circle cx="1553.7" cy="1275.9" r="5.3" fill="#1d3354"/><circle cx="1549.5" cy="1274.2" r="5.3" fill="#1d3354"/><circle cx="1528.6" cy="1285.9" r="5.3" fill="#1d3354"/><circle cx="1544.5" cy="1294.3" r="5.3" fill="#1d3354"/><circle cx="1541.1" cy="1297.6" r="5.3" fill="#1d3354"/><circle cx="1552.8" cy="1298.5" r="5.3" fill="#1d3354"/><circle cx="1554.5" cy="1303.5" r="5.3" fill="#1d3354"/><circle cx="1517.7" cy="1303.1" r="5.3" fill="#1d3354"/><circle cx="1527.3" cy="1305.2" r="5.3" fill="#1d3354"/><circle cx="1537.0" cy="1304.3" r="5.3" fill="#1d3354"/><circle cx="1546.1" cy="1308.5" r="5.3" fill="#1d3354"/><circle cx="1524.4" cy="1255.0" r="5.3" fill="#1d3354"/><circle cx="1527.8" cy="1260.0" r="5.3" fill="#1d3354"/><circle cx="1536.1" cy="1255.0" r="5.3" fill="#1d3354"/><circle cx="1539.5" cy="1260.0" r="5.3" fill="#1d3354"/><circle cx="1542.8" cy="1253.3" r="5.3" fill="#1d3354"/><circle cx="1547.8" cy="1257.5" r="5.3" fill="#1d3354"/><circle cx="1542.8" cy="1264.2" r="5.3" fill="#1d3354"/><circle cx="1549.5" cy="1263.4" r="5.3" fill="#1d3354"/><circle cx="1562.9" cy="1256.7" r="5.3" fill="#1d3354"/><circle cx="1567.9" cy="1260.0" r="5.3" fill="#1d3354"/><circle cx="1564.5" cy="1264.2" r="5.3" fill="#1d3354"/><circle cx="1569.5" cy="1255.0" r="5.3" fill="#1d3354"/><circle cx="1534.4" cy="1265.0" r="5.3" fill="#1d3354"/><circle cx="1545.1" cy="1238.9" r="5.3" fill="#1d3354"/><circle cx="1548.7" cy="1243.6" r="5.3" fill="#1d3354"/><circle cx="1552.2" cy="1248.3" r="5.3" fill="#1d3354"/><circle cx="1546.3" cy="1250.6" r="5.3" fill="#1d3354"/><circle cx="1542.8" cy="1255.3" r="5.3" fill="#1d3354"/><circle cx="1549.8" cy="1255.3" r="5.3" fill="#1d3354"/><circle cx="1554.5" cy="1241.3" r="5.3" fill="#1d3354"/><circle cx="1551.0" cy="1235.4" r="5.3" fill="#1d3354"/><circle cx="1547.5" cy="1231.9" r="5.3" fill="#1d3354"/><circle cx="1556.8" cy="1250.6" r="5.3" fill="#1d3354"/><circle cx="1540.5" cy="1261.2" r="5.3" fill="#1d3354"/><circle cx="1546.3" cy="1262.3" r="5.3" fill="#1d3354"/><circle cx="1559.8" cy="1198.0" r="5.3" fill="#1d3354"/><circle cx="1553.3" cy="1222.5" r="5.3" fill="#1d3354"/><circle cx="1566.2" cy="1260.0" r="5.3" fill="#1d3354"/><circle cx="1531.1" cy="1276.9" r="5.3" fill="#1d3354"/><circle cx="1553.3" cy="1275.8" r="5.3" fill="#1d3354"/><circle cx="1552.7" cy="1298.0" r="5.3" fill="#1d3354"/><circle cx="1554.5" cy="1302.1" r="5.3" fill="#1d3354"/><circle cx="1544.6" cy="1293.3" r="5.3" fill="#1d3354"/></g>
<path d="M1496.80 1331.38L2035.30 645.72" stroke="#111" stroke-width="2.3" fill="none"/>
</g>
<rect x="1496.80" y="777.90" width="538.50" height="538.20" fill="none" stroke="#000" stroke-width="1.90"/>
<path d="M1496.80 1316.10v12M1550.65 1316.10v6M1604.50 1316.10v12M1658.35 1316.10v6M1712.20 1316.10v12M1766.05 1316.10v6M1819.90 1316.10v12M1873.75 1316.10v6M1927.60 1316.10v12M1981.45 1316.10v6M2035.30 1316.10v12M1496.80 1316.10h-12M1496.80 1262.28h-6M1496.80 1208.46h-12M1496.80 1154.64h-6M1496.80 1100.82h-12M1496.80 1047.00h-6M1496.80 993.18h-12M1496.80 939.36h-6M1496.80 885.54h-12M1496.80 831.72h-6M1496.80 777.90h-12" stroke="#000" stroke-width="1.90" fill="none"/>
<g font-size="26.60"><text x="1496.80" y="1353.40" text-anchor="middle">0</text><text x="1604.50" y="1353.40" text-anchor="middle">2</text><text x="1712.20" y="1353.40" text-anchor="middle">4</text><text x="1819.90" y="1353.40" text-anchor="middle">6</text><text x="1927.60" y="1353.40" text-anchor="middle">8</text><text x="2035.30" y="1353.40" text-anchor="middle">10</text><text x="1478.30" y="1325.50" text-anchor="end">0</text><text x="1478.30" y="1217.86" text-anchor="end">10</text><text x="1478.30" y="1110.22" text-anchor="end">20</text><text x="1478.30" y="1002.58" text-anchor="end">30</text><text x="1478.30" y="894.94" text-anchor="end">40</text><text x="1478.30" y="787.30" text-anchor="end">50</text></g>
<text x="1766.05" y="1391.60" font-size="27.1" text-anchor="middle">GLOB Near-Surface Air Temperature [°C]</text>
<text transform="translate(1431.30 1047.00) rotate(-90)" font-size="27.3" text-anchor="middle">HMA relative Total Precipitation [%]</text>
<text x="1770.05" y="763.30" font-size="29.60" text-anchor="middle">Annual HMA pr vs. GLOBAL tas</text>
<text x="1496.40" y="813.50" font-size="28.95" font-weight="bold" letter-spacing="5.70" stroke="#fff" stroke-width="4.5" stroke-linejoin="round" paint-order="stroke">(f)</text>
<text x="2019.80" y="813.80" font-size="29.75" text-anchor="end" stroke="#fff" stroke-width="4.5" stroke-linejoin="round" paint-order="stroke">y = 6.37x + -1.42</text>
</g>
<rect x="701.8" y="1424.6" width="765.3" height="52.4" fill="#fff" stroke="#111" stroke-width="1.8"/>
<circle cx="742.7" cy="1450.4" r="5.3" fill="#1d3354" fill-opacity="0.8"/>
<text x="783.2" y="1457.6" font-size="26.60">ssp126</text>
<circle cx="937.0" cy="1450.4" r="5.3" fill="#eadd3d" fill-opacity="0.8"/>
<text x="977.5" y="1457.6" font-size="26.60">ssp245</text>
<circle cx="1131.3" cy="1450.4" r="5.3" fill="#f21111" fill-opacity="0.8"/>
<text x="1171.8" y="1457.6" font-size="26.60">ssp370</text>
<circle cx="1325.6" cy="1450.4" r="5.3" fill="#840b22" fill-opacity="0.8"/>
<text x="1366.1" y="1457.6" font-size="26.60">ssp585</text>
</svg>
</body></html>
